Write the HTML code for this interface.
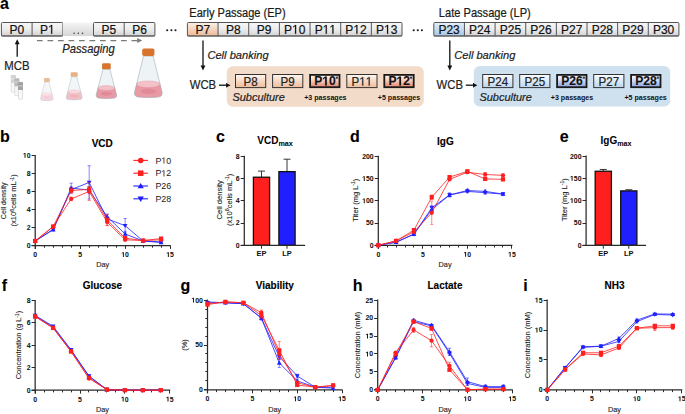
<!DOCTYPE html>
<html><head><meta charset="utf-8"><style>
html,body{margin:0;padding:0;background:#fff;}
body{width:685px;height:414px;overflow:hidden;}
svg{display:block;font-family:"Liberation Sans", sans-serif;}
</style></head><body>
<svg width="685" height="414" viewBox="0 0 685 414">
<rect width="685" height="414" fill="#fff"/>
<defs>
<linearGradient id="gGray" x1="0" y1="0" x2="0" y2="1"><stop offset="0" stop-color="#f7f7f7"/><stop offset="0.5" stop-color="#ececec"/><stop offset="1" stop-color="#d2d2d2"/></linearGradient>
<linearGradient id="gGrayMid" x1="0" y1="0" x2="0" y2="1"><stop offset="0" stop-color="#f5f5f5"/><stop offset="1" stop-color="#d6d6d6"/></linearGradient>
<linearGradient id="gOr" x1="0" y1="0" x2="0" y2="1"><stop offset="0" stop-color="#fbf1ea"/><stop offset="1" stop-color="#eeb994"/></linearGradient>
<linearGradient id="gBl" x1="0" y1="0" x2="0" y2="1"><stop offset="0" stop-color="#e6f0fa"/><stop offset="1" stop-color="#a6c6e8"/></linearGradient>
<linearGradient id="gOrL" x1="0" y1="0" x2="0" y2="1"><stop offset="0" stop-color="#fdf6f1"/><stop offset="1" stop-color="#f0bc98"/></linearGradient>
<linearGradient id="gOrS" x1="0" y1="0" x2="0" y2="1"><stop offset="0" stop-color="#fef6f2"/><stop offset="0.35" stop-color="#f8d9cd"/><stop offset="1" stop-color="#e6846a"/></linearGradient>
<linearGradient id="gBlL" x1="0" y1="0" x2="0" y2="1"><stop offset="0" stop-color="#fbfdff"/><stop offset="1" stop-color="#bcd5ef"/></linearGradient>
<linearGradient id="gBlS" x1="0" y1="0" x2="0" y2="1"><stop offset="0" stop-color="#f8f9fe"/><stop offset="0.35" stop-color="#dde4f7"/><stop offset="1" stop-color="#8aa1dd"/></linearGradient>
</defs>
<text transform="translate(0.00,9.00) scale(1,1.06)" font-size="16" font-weight="bold" font-style="normal" text-anchor="start" fill="#000" stroke="#000" stroke-width="0.12" >a</text>
<rect x="1.40" y="22.5" width="30.70" height="13.6" fill="url(#gGray)"/>
<text transform="translate(16.75,33.80) scale(1,1.06)" font-size="12" font-weight="normal" font-style="normal" text-anchor="middle" fill="#111" stroke="#111" stroke-width="0.2" >P0</text>
<rect x="32.10" y="22.5" width="30.70" height="13.6" fill="url(#gGray)"/>
<text transform="translate(47.45,33.80) scale(1,1.06)" font-size="12" font-weight="normal" font-style="normal" text-anchor="middle" fill="#111" stroke="#111" stroke-width="0.2" >P&#x2007;</text>
<path transform="translate(47.45,33.80) scale(1,1.06) scale(0.00586,-0.00586) translate(113.5,0)" d="M515 0L515 1237L197 1010L197 1180L530 1409L696 1409L696 0Z" fill="#111" stroke="#111" stroke-width="34.1"/>
<rect x="1.40" y="22.5" width="61.40" height="13.6" rx="1" fill="none" stroke="#555" stroke-width="1"/>
<line x1="32.10" y1="22.5" x2="32.10" y2="36.1" stroke="#444" stroke-width="0.9"/>
<line x1="1.40" y1="35.800000000000004" x2="62.80" y2="35.800000000000004" stroke="#666" stroke-width="1"/>
<rect x="62.80" y="22.5" width="30.70" height="13.6" fill="url(#gGrayMid)"/>
<circle cx="74.1" cy="33.2" r="0.75" fill="#333"/>
<circle cx="78.3" cy="33.2" r="0.75" fill="#333"/>
<circle cx="82.5" cy="33.2" r="0.75" fill="#333"/>
<rect x="93.50" y="22.5" width="30.70" height="13.6" fill="url(#gGray)"/>
<text transform="translate(108.85,33.80) scale(1,1.06)" font-size="12" font-weight="normal" font-style="normal" text-anchor="middle" fill="#111" stroke="#111" stroke-width="0.2" >P5</text>
<rect x="124.20" y="22.5" width="30.70" height="13.6" fill="url(#gGray)"/>
<text transform="translate(139.55,33.80) scale(1,1.06)" font-size="12" font-weight="normal" font-style="normal" text-anchor="middle" fill="#111" stroke="#111" stroke-width="0.2" >P6</text>
<rect x="93.50" y="22.5" width="61.40" height="13.6" rx="1" fill="none" stroke="#555" stroke-width="1"/>
<line x1="124.20" y1="22.5" x2="124.20" y2="36.1" stroke="#444" stroke-width="0.9"/>
<line x1="93.50" y1="35.800000000000004" x2="154.90" y2="35.800000000000004" stroke="#666" stroke-width="1"/>
<circle cx="167.2" cy="30.2" r="1.05" fill="#1a1a1a"/>
<circle cx="171.4" cy="30.2" r="1.05" fill="#1a1a1a"/>
<circle cx="175.5" cy="30.2" r="1.05" fill="#1a1a1a"/>
<text transform="translate(189.30,16.50) scale(1,1.09)" font-size="11.05" font-weight="normal" font-style="normal" text-anchor="start" fill="#1a1a1a" stroke="#1a1a1a" stroke-width="0.2" >Early Passage (EP)</text>
<rect x="187.40" y="22.5" width="30.66" height="13.6" fill="url(#gOr)"/>
<text transform="translate(202.73,33.80) scale(1,1.06)" font-size="12" font-weight="normal" font-style="normal" text-anchor="middle" fill="#111" stroke="#111" stroke-width="0.2" >P7</text>
<rect x="218.06" y="22.5" width="30.66" height="13.6" fill="url(#gGray)"/>
<text transform="translate(233.39,33.80) scale(1,1.06)" font-size="12" font-weight="normal" font-style="normal" text-anchor="middle" fill="#111" stroke="#111" stroke-width="0.2" >P8</text>
<rect x="248.72" y="22.5" width="30.66" height="13.6" fill="url(#gGray)"/>
<text transform="translate(264.05,33.80) scale(1,1.06)" font-size="12" font-weight="normal" font-style="normal" text-anchor="middle" fill="#111" stroke="#111" stroke-width="0.2" >P9</text>
<rect x="279.38" y="22.5" width="30.66" height="13.6" fill="url(#gGray)"/>
<text transform="translate(294.71,33.80) scale(1,1.06)" font-size="12" font-weight="normal" font-style="normal" text-anchor="middle" fill="#111" stroke="#111" stroke-width="0.2" >P&#x2007;0</text>
<path transform="translate(294.71,33.80) scale(1,1.06) scale(0.00586,-0.00586) translate(-456.0,0)" d="M515 0L515 1237L197 1010L197 1180L530 1409L696 1409L696 0Z" fill="#111" stroke="#111" stroke-width="34.1"/>
<rect x="310.04" y="22.5" width="30.66" height="13.6" fill="url(#gGray)"/>
<text transform="translate(325.37,33.80) scale(1,1.06)" font-size="12" font-weight="normal" font-style="normal" text-anchor="middle" fill="#111" stroke="#111" stroke-width="0.2" >P&#x2007;&#x2007;</text>
<path transform="translate(325.37,33.80) scale(1,1.06) scale(0.00586,-0.00586) translate(-456.0,0)" d="M515 0L515 1237L197 1010L197 1180L530 1409L696 1409L696 0Z" fill="#111" stroke="#111" stroke-width="34.1"/>
<path transform="translate(325.37,33.80) scale(1,1.06) scale(0.00586,-0.00586) translate(683.0,0)" d="M515 0L515 1237L197 1010L197 1180L530 1409L696 1409L696 0Z" fill="#111" stroke="#111" stroke-width="34.1"/>
<rect x="340.70" y="22.5" width="30.66" height="13.6" fill="url(#gGray)"/>
<text transform="translate(356.03,33.80) scale(1,1.06)" font-size="12" font-weight="normal" font-style="normal" text-anchor="middle" fill="#111" stroke="#111" stroke-width="0.2" >P&#x2007;2</text>
<path transform="translate(356.03,33.80) scale(1,1.06) scale(0.00586,-0.00586) translate(-456.0,0)" d="M515 0L515 1237L197 1010L197 1180L530 1409L696 1409L696 0Z" fill="#111" stroke="#111" stroke-width="34.1"/>
<rect x="371.36" y="22.5" width="30.66" height="13.6" fill="url(#gGray)"/>
<text transform="translate(386.69,33.80) scale(1,1.06)" font-size="12" font-weight="normal" font-style="normal" text-anchor="middle" fill="#111" stroke="#111" stroke-width="0.2" >P&#x2007;3</text>
<path transform="translate(386.69,33.80) scale(1,1.06) scale(0.00586,-0.00586) translate(-456.0,0)" d="M515 0L515 1237L197 1010L197 1180L530 1409L696 1409L696 0Z" fill="#111" stroke="#111" stroke-width="34.1"/>
<rect x="187.40" y="22.5" width="214.62" height="13.6" rx="1" fill="none" stroke="#555" stroke-width="1"/>
<line x1="218.06" y1="22.5" x2="218.06" y2="36.1" stroke="#444" stroke-width="0.9"/>
<line x1="248.72" y1="22.5" x2="248.72" y2="36.1" stroke="#444" stroke-width="0.9"/>
<line x1="279.38" y1="22.5" x2="279.38" y2="36.1" stroke="#444" stroke-width="0.9"/>
<line x1="310.04" y1="22.5" x2="310.04" y2="36.1" stroke="#444" stroke-width="0.9"/>
<line x1="340.70" y1="22.5" x2="340.70" y2="36.1" stroke="#444" stroke-width="0.9"/>
<line x1="371.36" y1="22.5" x2="371.36" y2="36.1" stroke="#444" stroke-width="0.9"/>
<line x1="187.40" y1="35.800000000000004" x2="402.02" y2="35.800000000000004" stroke="#666" stroke-width="1"/>
<circle cx="413.7" cy="30.2" r="1.05" fill="#1a1a1a"/>
<circle cx="417.8" cy="30.2" r="1.05" fill="#1a1a1a"/>
<circle cx="421.9" cy="30.2" r="1.05" fill="#1a1a1a"/>
<text transform="translate(438.80,16.70) scale(1,1.09)" font-size="11.1" font-weight="normal" font-style="normal" text-anchor="start" fill="#1a1a1a" stroke="#1a1a1a" stroke-width="0.2" >Late Passage (LP)</text>
<rect x="433.80" y="22.5" width="30.64" height="13.6" fill="url(#gBl)"/>
<text transform="translate(449.12,33.80) scale(1,1.06)" font-size="12" font-weight="normal" font-style="normal" text-anchor="middle" fill="#111" stroke="#111" stroke-width="0.2" >P23</text>
<rect x="464.44" y="22.5" width="30.64" height="13.6" fill="url(#gGray)"/>
<text transform="translate(479.76,33.80) scale(1,1.06)" font-size="12" font-weight="normal" font-style="normal" text-anchor="middle" fill="#111" stroke="#111" stroke-width="0.2" >P24</text>
<rect x="495.08" y="22.5" width="30.64" height="13.6" fill="url(#gGray)"/>
<text transform="translate(510.40,33.80) scale(1,1.06)" font-size="12" font-weight="normal" font-style="normal" text-anchor="middle" fill="#111" stroke="#111" stroke-width="0.2" >P25</text>
<rect x="525.72" y="22.5" width="30.64" height="13.6" fill="url(#gGray)"/>
<text transform="translate(541.04,33.80) scale(1,1.06)" font-size="12" font-weight="normal" font-style="normal" text-anchor="middle" fill="#111" stroke="#111" stroke-width="0.2" >P26</text>
<rect x="556.36" y="22.5" width="30.64" height="13.6" fill="url(#gGray)"/>
<text transform="translate(571.68,33.80) scale(1,1.06)" font-size="12" font-weight="normal" font-style="normal" text-anchor="middle" fill="#111" stroke="#111" stroke-width="0.2" >P27</text>
<rect x="587.00" y="22.5" width="30.64" height="13.6" fill="url(#gGray)"/>
<text transform="translate(602.32,33.80) scale(1,1.06)" font-size="12" font-weight="normal" font-style="normal" text-anchor="middle" fill="#111" stroke="#111" stroke-width="0.2" >P28</text>
<rect x="617.64" y="22.5" width="30.64" height="13.6" fill="url(#gGray)"/>
<text transform="translate(632.96,33.80) scale(1,1.06)" font-size="12" font-weight="normal" font-style="normal" text-anchor="middle" fill="#111" stroke="#111" stroke-width="0.2" >P29</text>
<rect x="648.28" y="22.5" width="30.64" height="13.6" fill="url(#gGray)"/>
<text transform="translate(663.60,33.80) scale(1,1.06)" font-size="12" font-weight="normal" font-style="normal" text-anchor="middle" fill="#111" stroke="#111" stroke-width="0.2" >P30</text>
<rect x="433.80" y="22.5" width="245.12" height="13.6" rx="1" fill="none" stroke="#555" stroke-width="1"/>
<line x1="464.44" y1="22.5" x2="464.44" y2="36.1" stroke="#444" stroke-width="0.9"/>
<line x1="495.08" y1="22.5" x2="495.08" y2="36.1" stroke="#444" stroke-width="0.9"/>
<line x1="525.72" y1="22.5" x2="525.72" y2="36.1" stroke="#444" stroke-width="0.9"/>
<line x1="556.36" y1="22.5" x2="556.36" y2="36.1" stroke="#444" stroke-width="0.9"/>
<line x1="587.00" y1="22.5" x2="587.00" y2="36.1" stroke="#444" stroke-width="0.9"/>
<line x1="617.64" y1="22.5" x2="617.64" y2="36.1" stroke="#444" stroke-width="0.9"/>
<line x1="648.28" y1="22.5" x2="648.28" y2="36.1" stroke="#444" stroke-width="0.9"/>
<line x1="433.80" y1="35.800000000000004" x2="678.92" y2="35.800000000000004" stroke="#666" stroke-width="1"/>
<line x1="17.2" y1="56.7" x2="17.2" y2="43" stroke="#111" stroke-width="1.3"/>
<path d="M17.2 39.3 L19.6 44.2 L14.8 44.2 Z" fill="#111"/>
<text transform="translate(4.30,70.30) scale(1,1.06)" font-size="11.4" font-weight="normal" font-style="normal" text-anchor="start" fill="#222" stroke="#222" stroke-width="0.2" >MCB</text>
<line x1="37" y1="40.6" x2="138" y2="40.6" stroke="#7a7a7a" stroke-width="1.25" stroke-dasharray="5.7 4.8"/>
<path d="M142.2 40.6 L137.2 38.1 L137.2 43.1 Z" fill="#7a7a7a"/>
<text transform="translate(62.20,52.50) scale(1,1.06)" font-size="11.24" font-weight="normal" font-style="italic" text-anchor="start" fill="#222" stroke="#222" stroke-width="0.2" >Passaging</text>
<rect x="11.20" y="81.90" width="4.3" height="10.4" rx="1" fill="#f7f7f7" stroke="#c9c9c9" stroke-width="0.55"/>
<rect x="10.80" y="74.90" width="5.1" height="8" rx="0.6" fill="#d2d2d2"/>
<rect x="10.80" y="78.10" width="5.1" height="1.6" fill="#e4e4e4"/>
<rect x="14.70" y="85.20" width="4.3" height="10.4" rx="1" fill="#f7f7f7" stroke="#c9c9c9" stroke-width="0.55"/>
<rect x="14.30" y="78.20" width="5.1" height="8" rx="0.6" fill="#b9b9b9"/>
<rect x="14.30" y="81.40" width="5.1" height="1.6" fill="#d0d0d0"/>
<rect x="18.30" y="88.90" width="4.3" height="10.4" rx="1" fill="#f7f7f7" stroke="#c9c9c9" stroke-width="0.55"/>
<rect x="17.90" y="81.90" width="5.1" height="8" rx="0.6" fill="#a3a3a3"/>
<rect x="17.90" y="85.10" width="5.1" height="1.6" fill="#bdbdbd"/>
<path d="M44.60 82.00 L49.20 82.00 L49.20 82.74 L53.10 98.08 C53.55 99.66 52.57 100.40 50.57 100.40 Q46.90 101.00 43.23 100.40 C41.23 100.40 40.25 99.66 40.70 98.08 L44.60 82.74 Z" fill="#f3f7f9"/>
<path d="M41.69 94.20 L52.11 94.20 L53.10 98.08 C53.55 99.66 52.57 100.40 50.57 100.40 Q46.90 101.00 43.23 100.40 C41.23 100.40 40.25 99.66 40.70 98.08 Z" fill="#f7d5da"/>
<ellipse cx="46.90" cy="94.20" rx="5.21" ry="1.49" fill="#fae3e6" stroke="#f5ccd3" stroke-width="0.35"/>
<ellipse cx="46.90" cy="97.61" rx="3.47" ry="1.24" fill="#f5ccd3"/>
<path d="M44.60 82.00 L49.20 82.00 L49.20 82.74 L53.10 98.08 C53.55 99.66 52.57 100.40 50.57 100.40 Q46.90 101.00 43.23 100.40 C41.23 100.40 40.25 99.66 40.70 98.08 L44.60 82.74 Z" fill="none" stroke="#c4d0d6" stroke-width="0.55"/>
<rect x="44.00" y="78.00" width="5.80" height="4.00" rx="0.87" fill="#ebbb94"/>
<path d="M71.40 76.80 L77.00 76.80 L77.00 77.74 L82.00 96.68 C82.45 98.67 81.34 99.60 78.82 99.60 Q74.20 100.20 69.58 99.60 C67.06 99.60 65.95 98.67 66.40 96.68 L71.40 77.74 Z" fill="#f1f6f8"/>
<path d="M67.71 91.70 L80.69 91.70 L82.00 96.68 C82.45 98.67 81.34 99.60 78.82 99.60 Q74.20 100.20 69.58 99.60 C67.06 99.60 65.95 98.67 66.40 96.68 Z" fill="#f2bfc6"/>
<ellipse cx="74.20" cy="91.70" rx="6.49" ry="1.87" fill="#f8d8dc" stroke="#efb3bc" stroke-width="0.35"/>
<ellipse cx="74.20" cy="96.05" rx="4.37" ry="1.56" fill="#efb3bc"/>
<path d="M71.40 76.80 L77.00 76.80 L77.00 77.74 L82.00 96.68 C82.45 98.67 81.34 99.60 78.82 99.60 Q74.20 100.20 69.58 99.60 C67.06 99.60 65.95 98.67 66.40 96.68 L71.40 77.74 Z" fill="none" stroke="#b4c4cc" stroke-width="0.55"/>
<rect x="70.70" y="72.20" width="7.00" height="4.60" rx="1.05" fill="#e8b085"/>
<path d="M102.60 69.30 L110.20 69.30 L110.20 70.52 L116.55 94.50 C117.00 97.09 115.69 98.30 112.41 98.30 Q106.40 98.90 100.39 98.30 C97.11 98.30 95.80 97.09 96.25 94.50 L102.60 70.52 Z" fill="#eef4f6"/>
<path d="M97.97 88.00 L114.83 88.00 L116.55 94.50 C117.00 97.09 115.69 98.30 112.41 98.30 Q106.40 98.90 100.39 98.30 C97.11 98.30 95.80 97.09 96.25 94.50 Z" fill="#e89ba5"/>
<ellipse cx="106.40" cy="88.00" rx="8.43" ry="2.44" fill="#f2c2c8" stroke="#e2899a" stroke-width="0.35"/>
<ellipse cx="106.40" cy="93.66" rx="5.68" ry="2.03" fill="#e2899a"/>
<path d="M102.60 69.30 L110.20 69.30 L110.20 70.52 L116.55 94.50 C117.00 97.09 115.69 98.30 112.41 98.30 Q106.40 98.90 100.39 98.30 C97.11 98.30 95.80 97.09 96.25 94.50 L102.60 70.52 Z" fill="none" stroke="#98aab4" stroke-width="0.55"/>
<rect x="102.05" y="63.30" width="8.70" height="6.00" rx="1.30" fill="#d8742e"/>
<path d="M143.15 56.00 L153.45 56.00 L153.45 57.65 L162.05 92.06 C162.50 95.56 160.88 97.20 156.44 97.20 Q148.30 97.80 140.16 97.20 C135.72 97.20 134.10 95.56 134.55 92.06 L143.15 57.65 Z" fill="#eef4f6"/>
<path d="M136.51 84.20 L160.09 84.20 L162.05 92.06 C162.50 95.56 160.88 97.20 156.44 97.20 Q148.30 97.80 140.16 97.20 C135.72 97.20 134.10 95.56 134.55 92.06 Z" fill="#e89ba5"/>
<ellipse cx="148.30" cy="84.20" rx="11.79" ry="3.30" fill="#f2c2c8" stroke="#e2899a" stroke-width="0.35"/>
<ellipse cx="148.30" cy="91.35" rx="7.70" ry="2.75" fill="#e2899a"/>
<path d="M143.15 56.00 L153.45 56.00 L153.45 57.65 L162.05 92.06 C162.50 95.56 160.88 97.20 156.44 97.20 Q148.30 97.80 140.16 97.20 C135.72 97.20 134.10 95.56 134.55 92.06 L143.15 57.65 Z" fill="none" stroke="#94a6b0" stroke-width="0.55"/>
<rect x="142.20" y="48.40" width="12.20" height="7.60" rx="1.83" fill="#d7732d"/>
<line x1="203" y1="40.4" x2="203" y2="66.5" stroke="#111" stroke-width="1.3"/>
<path d="M203 70.4 L205.4 65.5 L200.6 65.5 Z" fill="#111"/>
<text transform="translate(207.40,58.90) scale(1,1.06)" font-size="11.13" font-weight="normal" font-style="italic" text-anchor="start" fill="#222" stroke="#222" stroke-width="0.2" >Cell banking</text>
<text transform="translate(189.80,89.40) scale(1,1.06)" font-size="11.3" font-weight="normal" font-style="normal" text-anchor="start" fill="#222" stroke="#222" stroke-width="0.2" >WCB</text>
<line x1="219" y1="85.2" x2="227" y2="85.2" stroke="#111" stroke-width="1.3"/>
<path d="M230.6 85.2 L226.2 83 L226.2 87.4 Z" fill="#111"/>
<line x1="449.8" y1="40.4" x2="449.8" y2="66.5" stroke="#111" stroke-width="1.3"/>
<path d="M449.8 70.4 L452.20000000000005 65.5 L447.4 65.5 Z" fill="#111"/>
<text transform="translate(454.20,58.90) scale(1,1.06)" font-size="11.13" font-weight="normal" font-style="italic" text-anchor="start" fill="#222" stroke="#222" stroke-width="0.2" >Cell banking</text>
<text transform="translate(436.60,89.40) scale(1,1.06)" font-size="11.3" font-weight="normal" font-style="normal" text-anchor="start" fill="#222" stroke="#222" stroke-width="0.2" >WCB</text>
<line x1="465.8" y1="85.2" x2="473.8" y2="85.2" stroke="#111" stroke-width="1.3"/>
<path d="M477.4 85.2 L473.0 83 L473.0 87.4 Z" fill="#111"/>
<rect x="226.8" y="66.2" width="197" height="40.5" rx="6" fill="#f2dcc9"/>
<rect x="473.8" y="66.1" width="196.4" height="40.5" rx="6" fill="#cfe0ef"/>
<path d="M230.6 85.2 L226.2 83 L226.2 87.4 Z" fill="#111"/>
<path d="M477.4 85.2 L473 83 L473 87.4 Z" fill="#111"/>
<rect x="235.50" y="74.5" width="30.20" height="13.1" fill="url(#gOrL)" stroke="#333" stroke-width="1"/>
<text transform="translate(250.60,85.60) scale(1,1.06)" font-size="11.6" font-weight="normal" font-style="normal" text-anchor="middle" fill="#222" stroke="#222" stroke-width="0.2" >P8</text>
<rect x="272.60" y="74.5" width="30.20" height="13.1" fill="url(#gOrL)" stroke="#333" stroke-width="1"/>
<text transform="translate(287.70,85.60) scale(1,1.06)" font-size="11.6" font-weight="normal" font-style="normal" text-anchor="middle" fill="#222" stroke="#222" stroke-width="0.2" >P9</text>
<rect x="310.10" y="74.9" width="29.40" height="12.3" fill="url(#gOrS)" stroke="#1a1a1a" stroke-width="1.8"/>
<text transform="translate(325.00,85.40) scale(1,1.06)" font-size="12.1" font-weight="bold" font-style="normal" text-anchor="middle" fill="#111" stroke="#111" stroke-width="0.12" >P&#x2007;0</text>
<path transform="translate(325.00,85.40) scale(1,1.06) scale(0.00591,-0.00591) translate(-456.0,0)" d="M478 0L478 1170L140 959L140 1180L493 1409L759 1409L759 0Z" fill="#111" stroke="#111" stroke-width="20.3"/>
<line x1="336.90" y1="76.20" x2="336.90" y2="79.20" stroke="#222" stroke-width="0.7"/>
<line x1="335.60" y1="76.95" x2="338.20" y2="78.45" stroke="#222" stroke-width="0.7"/>
<line x1="338.20" y1="76.95" x2="335.60" y2="78.45" stroke="#222" stroke-width="0.7"/>
<rect x="346.80" y="74.5" width="30.20" height="13.1" fill="url(#gOrL)" stroke="#333" stroke-width="1"/>
<text transform="translate(361.90,85.60) scale(1,1.06)" font-size="11.6" font-weight="normal" font-style="normal" text-anchor="middle" fill="#222" stroke="#222" stroke-width="0.2" >P&#x2007;&#x2007;</text>
<path transform="translate(361.90,85.60) scale(1,1.06) scale(0.00566,-0.00566) translate(-456.0,0)" d="M515 0L515 1237L197 1010L197 1180L530 1409L696 1409L696 0Z" fill="#222" stroke="#222" stroke-width="35.3"/>
<path transform="translate(361.90,85.60) scale(1,1.06) scale(0.00566,-0.00566) translate(683.0,0)" d="M515 0L515 1237L197 1010L197 1180L530 1409L696 1409L696 0Z" fill="#222" stroke="#222" stroke-width="35.3"/>
<rect x="384.30" y="74.9" width="29.40" height="12.3" fill="url(#gOrS)" stroke="#1a1a1a" stroke-width="1.8"/>
<text transform="translate(399.20,85.40) scale(1,1.06)" font-size="12.1" font-weight="bold" font-style="normal" text-anchor="middle" fill="#111" stroke="#111" stroke-width="0.12" >P&#x2007;2</text>
<path transform="translate(399.20,85.40) scale(1,1.06) scale(0.00591,-0.00591) translate(-456.0,0)" d="M478 0L478 1170L140 959L140 1180L493 1409L759 1409L759 0Z" fill="#111" stroke="#111" stroke-width="20.3"/>
<line x1="411.10" y1="76.20" x2="411.10" y2="79.20" stroke="#222" stroke-width="0.7"/>
<line x1="409.80" y1="76.95" x2="412.40" y2="78.45" stroke="#222" stroke-width="0.7"/>
<line x1="412.40" y1="76.95" x2="409.80" y2="78.45" stroke="#222" stroke-width="0.7"/>
<rect x="482.70" y="74.5" width="30.20" height="13.1" fill="url(#gBlL)" stroke="#333" stroke-width="1"/>
<text transform="translate(497.80,85.60) scale(1,1.06)" font-size="11.6" font-weight="normal" font-style="normal" text-anchor="middle" fill="#222" stroke="#222" stroke-width="0.2" >P24</text>
<rect x="519.70" y="74.5" width="30.20" height="13.1" fill="url(#gBlL)" stroke="#333" stroke-width="1"/>
<text transform="translate(534.80,85.60) scale(1,1.06)" font-size="11.6" font-weight="normal" font-style="normal" text-anchor="middle" fill="#222" stroke="#222" stroke-width="0.2" >P25</text>
<rect x="557.10" y="74.9" width="29.40" height="12.3" fill="url(#gBlS)" stroke="#1a1a1a" stroke-width="1.8"/>
<text transform="translate(572.00,85.40) scale(1,1.06)" font-size="12.1" font-weight="bold" font-style="normal" text-anchor="middle" fill="#111" stroke="#111" stroke-width="0.12" >P26</text>
<line x1="583.90" y1="76.20" x2="583.90" y2="79.20" stroke="#222" stroke-width="0.7"/>
<line x1="582.60" y1="76.95" x2="585.20" y2="78.45" stroke="#222" stroke-width="0.7"/>
<line x1="585.20" y1="76.95" x2="582.60" y2="78.45" stroke="#222" stroke-width="0.7"/>
<rect x="593.70" y="74.5" width="30.20" height="13.1" fill="url(#gBlL)" stroke="#333" stroke-width="1"/>
<text transform="translate(608.80,85.60) scale(1,1.06)" font-size="11.6" font-weight="normal" font-style="normal" text-anchor="middle" fill="#222" stroke="#222" stroke-width="0.2" >P27</text>
<rect x="631.10" y="74.9" width="29.40" height="12.3" fill="url(#gBlS)" stroke="#1a1a1a" stroke-width="1.8"/>
<text transform="translate(646.00,85.40) scale(1,1.06)" font-size="12.1" font-weight="bold" font-style="normal" text-anchor="middle" fill="#111" stroke="#111" stroke-width="0.12" >P28</text>
<line x1="657.90" y1="76.20" x2="657.90" y2="79.20" stroke="#222" stroke-width="0.7"/>
<line x1="656.60" y1="76.95" x2="659.20" y2="78.45" stroke="#222" stroke-width="0.7"/>
<line x1="659.20" y1="76.95" x2="656.60" y2="78.45" stroke="#222" stroke-width="0.7"/>
<text transform="translate(232.40,101.20) scale(1,1.06)" font-size="10.98" font-weight="normal" font-style="italic" text-anchor="start" fill="#222" stroke="#222" stroke-width="0.2" >Subculture</text>
<text transform="translate(479.40,101.20) scale(1,1.06)" font-size="10.98" font-weight="normal" font-style="italic" text-anchor="start" fill="#222" stroke="#222" stroke-width="0.2" >Subculture</text>
<text transform="translate(325.40,99.60) scale(1,1.06)" font-size="7.1" font-weight="bold" font-style="normal" text-anchor="middle" fill="#111" stroke="#111" stroke-width="0" >+3 passages</text>
<text transform="translate(399.00,99.60) scale(1,1.06)" font-size="7.1" font-weight="bold" font-style="normal" text-anchor="middle" fill="#111" stroke="#111" stroke-width="0" >+5 passages</text>
<text transform="translate(572.00,99.60) scale(1,1.06)" font-size="7.1" font-weight="bold" font-style="normal" text-anchor="middle" fill="#111" stroke="#111" stroke-width="0" >+3 passages</text>
<text transform="translate(645.60,99.60) scale(1,1.06)" font-size="7.1" font-weight="bold" font-style="normal" text-anchor="middle" fill="#111" stroke="#111" stroke-width="0" >+5 passages</text>
<text x="0.00" y="142.10" font-size="16" font-weight="bold" font-style="normal" text-anchor="start" fill="#000" stroke="#000" stroke-width="0.12" >b</text>
<text x="102.20" y="147.30" font-size="10" font-weight="bold" font-style="normal" text-anchor="middle" fill="#000" stroke="#000" stroke-width="0.12" >VCD</text>
<line x1="35.20" y1="248.90" x2="35.20" y2="154.90" stroke="#2a2a2a" stroke-width="1.25"/>
<line x1="31.60" y1="245.50" x2="170.60" y2="245.50" stroke="#2a2a2a" stroke-width="1.25"/>
<line x1="31.60" y1="245.50" x2="35.20" y2="245.50" stroke="#2a2a2a" stroke-width="1.05"/>
<text x="30.60" y="247.90" font-size="6.9" font-weight="bold" font-style="normal" text-anchor="end" fill="#111" stroke="#111" stroke-width="0.04" >0</text>
<line x1="31.60" y1="227.50" x2="35.20" y2="227.50" stroke="#2a2a2a" stroke-width="1.05"/>
<text x="30.60" y="229.88" font-size="6.9" font-weight="bold" font-style="normal" text-anchor="end" fill="#111" stroke="#111" stroke-width="0.04" >2</text>
<line x1="31.60" y1="209.50" x2="35.20" y2="209.50" stroke="#2a2a2a" stroke-width="1.05"/>
<text x="30.60" y="211.86" font-size="6.9" font-weight="bold" font-style="normal" text-anchor="end" fill="#111" stroke="#111" stroke-width="0.04" >4</text>
<line x1="31.60" y1="191.50" x2="35.20" y2="191.50" stroke="#2a2a2a" stroke-width="1.05"/>
<text x="30.60" y="193.84" font-size="6.9" font-weight="bold" font-style="normal" text-anchor="end" fill="#111" stroke="#111" stroke-width="0.04" >6</text>
<line x1="31.60" y1="173.50" x2="35.20" y2="173.50" stroke="#2a2a2a" stroke-width="1.05"/>
<text x="30.60" y="175.82" font-size="6.9" font-weight="bold" font-style="normal" text-anchor="end" fill="#111" stroke="#111" stroke-width="0.04" >8</text>
<line x1="31.60" y1="155.50" x2="35.20" y2="155.50" stroke="#2a2a2a" stroke-width="1.05"/>
<text x="30.60" y="157.80" font-size="6.9" font-weight="bold" font-style="normal" text-anchor="end" fill="#111" stroke="#111" stroke-width="0.04" >&#x2007;0</text>
<path transform="translate(30.60,157.80) scale(1,1.0) scale(0.00337,-0.00337) translate(-2278.0,0)" d="M478 0L478 1170L140 959L140 1180L493 1409L759 1409L759 0Z" fill="#111" stroke="#111" stroke-width="11.9"/>
<line x1="35.50" y1="245.5" x2="35.50" y2="248.9" stroke="#2a2a2a" stroke-width="1.05"/>
<text x="35.20" y="256.90" font-size="6.9" font-weight="bold" font-style="normal" text-anchor="middle" fill="#111" stroke="#111" stroke-width="0.04" >0</text>
<line x1="44.50" y1="245.5" x2="44.50" y2="247.7" stroke="#2a2a2a" stroke-width="1"/>
<line x1="53.50" y1="245.5" x2="53.50" y2="247.7" stroke="#2a2a2a" stroke-width="1"/>
<line x1="62.50" y1="245.5" x2="62.50" y2="247.7" stroke="#2a2a2a" stroke-width="1"/>
<line x1="71.50" y1="245.5" x2="71.50" y2="247.7" stroke="#2a2a2a" stroke-width="1"/>
<line x1="80.50" y1="245.5" x2="80.50" y2="248.9" stroke="#2a2a2a" stroke-width="1.05"/>
<text x="80.17" y="256.90" font-size="6.9" font-weight="bold" font-style="normal" text-anchor="middle" fill="#111" stroke="#111" stroke-width="0.04" >5</text>
<line x1="89.50" y1="245.5" x2="89.50" y2="247.7" stroke="#2a2a2a" stroke-width="1"/>
<line x1="98.50" y1="245.5" x2="98.50" y2="247.7" stroke="#2a2a2a" stroke-width="1"/>
<line x1="107.50" y1="245.5" x2="107.50" y2="247.7" stroke="#2a2a2a" stroke-width="1"/>
<line x1="116.50" y1="245.5" x2="116.50" y2="247.7" stroke="#2a2a2a" stroke-width="1"/>
<line x1="125.50" y1="245.5" x2="125.50" y2="248.9" stroke="#2a2a2a" stroke-width="1.05"/>
<text x="125.13" y="256.90" font-size="6.9" font-weight="bold" font-style="normal" text-anchor="middle" fill="#111" stroke="#111" stroke-width="0.04" >&#x2007;0</text>
<path transform="translate(125.13,256.90) scale(1,1.0) scale(0.00337,-0.00337) translate(-1139.0,0)" d="M478 0L478 1170L140 959L140 1180L493 1409L759 1409L759 0Z" fill="#111" stroke="#111" stroke-width="11.9"/>
<line x1="134.50" y1="245.5" x2="134.50" y2="247.7" stroke="#2a2a2a" stroke-width="1"/>
<line x1="143.50" y1="245.5" x2="143.50" y2="247.7" stroke="#2a2a2a" stroke-width="1"/>
<line x1="152.50" y1="245.5" x2="152.50" y2="247.7" stroke="#2a2a2a" stroke-width="1"/>
<line x1="161.50" y1="245.5" x2="161.50" y2="247.7" stroke="#2a2a2a" stroke-width="1"/>
<line x1="170.50" y1="245.5" x2="170.50" y2="248.9" stroke="#2a2a2a" stroke-width="1.05"/>
<text x="170.10" y="256.90" font-size="6.9" font-weight="bold" font-style="normal" text-anchor="middle" fill="#111" stroke="#111" stroke-width="0.04" >&#x2007;5</text>
<path transform="translate(170.10,256.90) scale(1,1.0) scale(0.00337,-0.00337) translate(-1139.0,0)" d="M478 0L478 1170L140 959L140 1180L493 1409L759 1409L759 0Z" fill="#111" stroke="#111" stroke-width="11.9"/>
<text x="102.65" y="267.30" font-size="7.3" font-weight="normal" font-style="normal" text-anchor="middle" fill="#222" stroke="#222" stroke-width="0.12" >Day</text>
<line x1="53.19" y1="228.83" x2="53.19" y2="230.63" stroke="#1f1fff" stroke-width="0.7" opacity="0.75"/>
<line x1="51.59" y1="228.83" x2="54.79" y2="228.83" stroke="#1f1fff" stroke-width="0.7" opacity="0.75"/>
<line x1="51.59" y1="230.63" x2="54.79" y2="230.63" stroke="#1f1fff" stroke-width="0.7" opacity="0.75"/>
<line x1="71.17" y1="183.15" x2="71.17" y2="193.06" stroke="#1f1fff" stroke-width="0.7" opacity="0.75"/>
<line x1="69.57" y1="183.15" x2="72.77" y2="183.15" stroke="#1f1fff" stroke-width="0.7" opacity="0.75"/>
<line x1="69.57" y1="193.06" x2="72.77" y2="193.06" stroke="#1f1fff" stroke-width="0.7" opacity="0.75"/>
<line x1="89.16" y1="186.48" x2="89.16" y2="193.69" stroke="#1f1fff" stroke-width="0.7" opacity="0.75"/>
<line x1="87.56" y1="186.48" x2="90.76" y2="186.48" stroke="#1f1fff" stroke-width="0.7" opacity="0.75"/>
<line x1="87.56" y1="193.69" x2="90.76" y2="193.69" stroke="#1f1fff" stroke-width="0.7" opacity="0.75"/>
<line x1="107.15" y1="213.97" x2="107.15" y2="219.37" stroke="#1f1fff" stroke-width="0.7" opacity="0.75"/>
<line x1="105.55" y1="213.97" x2="108.75" y2="213.97" stroke="#1f1fff" stroke-width="0.7" opacity="0.75"/>
<line x1="105.55" y1="219.37" x2="108.75" y2="219.37" stroke="#1f1fff" stroke-width="0.7" opacity="0.75"/>
<line x1="125.13" y1="231.26" x2="125.13" y2="236.67" stroke="#1f1fff" stroke-width="0.7" opacity="0.75"/>
<line x1="123.53" y1="231.26" x2="126.73" y2="231.26" stroke="#1f1fff" stroke-width="0.7" opacity="0.75"/>
<line x1="123.53" y1="236.67" x2="126.73" y2="236.67" stroke="#1f1fff" stroke-width="0.7" opacity="0.75"/>
<line x1="143.12" y1="240.54" x2="143.12" y2="241.45" stroke="#1f1fff" stroke-width="0.7" opacity="0.75"/>
<line x1="141.52" y1="240.54" x2="144.72" y2="240.54" stroke="#1f1fff" stroke-width="0.7" opacity="0.75"/>
<line x1="141.52" y1="241.45" x2="144.72" y2="241.45" stroke="#1f1fff" stroke-width="0.7" opacity="0.75"/>
<line x1="161.11" y1="242.08" x2="161.11" y2="242.98" stroke="#1f1fff" stroke-width="0.7" opacity="0.75"/>
<line x1="159.51" y1="242.08" x2="162.71" y2="242.08" stroke="#1f1fff" stroke-width="0.7" opacity="0.75"/>
<line x1="159.51" y1="242.98" x2="162.71" y2="242.98" stroke="#1f1fff" stroke-width="0.7" opacity="0.75"/>
<polyline points="35.20,241.00 53.19,229.73 71.17,188.11 89.16,190.09 107.15,216.67 125.13,233.97 143.12,241.00 161.11,242.53" fill="none" stroke="#1f1fff" stroke-width="0.8"/>
<path d="M35.20 238.60 L37.59 242.79 L32.81 242.79 Z" fill="#1f1fff"/>
<path d="M53.19 227.34 L55.58 231.53 L50.79 231.53 Z" fill="#1f1fff"/>
<path d="M71.17 185.71 L73.57 189.90 L68.78 189.90 Z" fill="#1f1fff"/>
<path d="M89.16 187.70 L91.55 191.88 L86.77 191.88 Z" fill="#1f1fff"/>
<path d="M107.15 214.28 L109.54 218.46 L104.75 218.46 Z" fill="#1f1fff"/>
<path d="M125.13 231.58 L127.53 235.76 L122.74 235.76 Z" fill="#1f1fff"/>
<path d="M143.12 238.60 L145.51 242.79 L140.73 242.79 Z" fill="#1f1fff"/>
<path d="M161.11 240.13 L163.50 244.32 L158.71 244.32 Z" fill="#1f1fff"/>
<line x1="53.19" y1="228.38" x2="53.19" y2="230.18" stroke="#1f1fff" stroke-width="0.7" opacity="0.75"/>
<line x1="51.59" y1="228.38" x2="54.79" y2="228.38" stroke="#1f1fff" stroke-width="0.7" opacity="0.75"/>
<line x1="51.59" y1="230.18" x2="54.79" y2="230.18" stroke="#1f1fff" stroke-width="0.7" opacity="0.75"/>
<line x1="71.17" y1="186.94" x2="71.17" y2="192.34" stroke="#1f1fff" stroke-width="0.7" opacity="0.75"/>
<line x1="69.57" y1="186.94" x2="72.77" y2="186.94" stroke="#1f1fff" stroke-width="0.7" opacity="0.75"/>
<line x1="69.57" y1="192.34" x2="72.77" y2="192.34" stroke="#1f1fff" stroke-width="0.7" opacity="0.75"/>
<line x1="89.16" y1="165.76" x2="89.16" y2="199.10" stroke="#1f1fff" stroke-width="0.7" opacity="0.75"/>
<line x1="87.56" y1="165.76" x2="90.76" y2="165.76" stroke="#1f1fff" stroke-width="0.7" opacity="0.75"/>
<line x1="87.56" y1="199.10" x2="90.76" y2="199.10" stroke="#1f1fff" stroke-width="0.7" opacity="0.75"/>
<line x1="107.15" y1="216.22" x2="107.15" y2="221.62" stroke="#1f1fff" stroke-width="0.7" opacity="0.75"/>
<line x1="105.55" y1="216.22" x2="108.75" y2="216.22" stroke="#1f1fff" stroke-width="0.7" opacity="0.75"/>
<line x1="105.55" y1="221.62" x2="108.75" y2="221.62" stroke="#1f1fff" stroke-width="0.7" opacity="0.75"/>
<line x1="125.13" y1="218.47" x2="125.13" y2="232.89" stroke="#1f1fff" stroke-width="0.7" opacity="0.75"/>
<line x1="123.53" y1="218.47" x2="126.73" y2="218.47" stroke="#1f1fff" stroke-width="0.7" opacity="0.75"/>
<line x1="123.53" y1="232.89" x2="126.73" y2="232.89" stroke="#1f1fff" stroke-width="0.7" opacity="0.75"/>
<line x1="143.12" y1="240.54" x2="143.12" y2="241.45" stroke="#1f1fff" stroke-width="0.7" opacity="0.75"/>
<line x1="141.52" y1="240.54" x2="144.72" y2="240.54" stroke="#1f1fff" stroke-width="0.7" opacity="0.75"/>
<line x1="141.52" y1="241.45" x2="144.72" y2="241.45" stroke="#1f1fff" stroke-width="0.7" opacity="0.75"/>
<line x1="161.11" y1="241.45" x2="161.11" y2="242.35" stroke="#1f1fff" stroke-width="0.7" opacity="0.75"/>
<line x1="159.51" y1="241.45" x2="162.71" y2="241.45" stroke="#1f1fff" stroke-width="0.7" opacity="0.75"/>
<line x1="159.51" y1="242.35" x2="162.71" y2="242.35" stroke="#1f1fff" stroke-width="0.7" opacity="0.75"/>
<polyline points="35.20,241.00 53.19,229.28 71.17,189.64 89.16,182.43 107.15,218.92 125.13,225.68 143.12,241.00 161.11,241.90" fill="none" stroke="#1f1fff" stroke-width="0.8"/>
<path d="M35.20 243.39 L37.59 239.20 L32.81 239.20 Z" fill="#1f1fff"/>
<path d="M53.19 231.67 L55.58 227.49 L50.79 227.49 Z" fill="#1f1fff"/>
<path d="M71.17 192.03 L73.57 187.84 L68.78 187.84 Z" fill="#1f1fff"/>
<path d="M89.16 184.82 L91.55 180.64 L86.77 180.64 Z" fill="#1f1fff"/>
<path d="M107.15 221.31 L109.54 217.13 L104.75 217.13 Z" fill="#1f1fff"/>
<path d="M125.13 228.07 L127.53 223.88 L122.74 223.88 Z" fill="#1f1fff"/>
<path d="M143.12 243.39 L145.51 239.20 L140.73 239.20 Z" fill="#1f1fff"/>
<path d="M161.11 244.29 L163.50 240.10 L158.71 240.10 Z" fill="#1f1fff"/>
<line x1="53.19" y1="225.23" x2="53.19" y2="227.93" stroke="#ff1f1f" stroke-width="0.7" opacity="0.75"/>
<line x1="51.59" y1="225.23" x2="54.79" y2="225.23" stroke="#ff1f1f" stroke-width="0.7" opacity="0.75"/>
<line x1="51.59" y1="227.93" x2="54.79" y2="227.93" stroke="#ff1f1f" stroke-width="0.7" opacity="0.75"/>
<line x1="71.17" y1="197.12" x2="71.17" y2="200.72" stroke="#ff1f1f" stroke-width="0.7" opacity="0.75"/>
<line x1="69.57" y1="197.12" x2="72.77" y2="197.12" stroke="#ff1f1f" stroke-width="0.7" opacity="0.75"/>
<line x1="69.57" y1="200.72" x2="72.77" y2="200.72" stroke="#ff1f1f" stroke-width="0.7" opacity="0.75"/>
<line x1="89.16" y1="182.43" x2="89.16" y2="200.45" stroke="#ff1f1f" stroke-width="0.7" opacity="0.75"/>
<line x1="87.56" y1="182.43" x2="90.76" y2="182.43" stroke="#ff1f1f" stroke-width="0.7" opacity="0.75"/>
<line x1="87.56" y1="200.45" x2="90.76" y2="200.45" stroke="#ff1f1f" stroke-width="0.7" opacity="0.75"/>
<line x1="107.15" y1="218.47" x2="107.15" y2="225.68" stroke="#ff1f1f" stroke-width="0.7" opacity="0.75"/>
<line x1="105.55" y1="218.47" x2="108.75" y2="218.47" stroke="#ff1f1f" stroke-width="0.7" opacity="0.75"/>
<line x1="105.55" y1="225.68" x2="108.75" y2="225.68" stroke="#ff1f1f" stroke-width="0.7" opacity="0.75"/>
<line x1="125.13" y1="238.92" x2="125.13" y2="240.72" stroke="#ff1f1f" stroke-width="0.7" opacity="0.75"/>
<line x1="123.53" y1="238.92" x2="126.73" y2="238.92" stroke="#ff1f1f" stroke-width="0.7" opacity="0.75"/>
<line x1="123.53" y1="240.72" x2="126.73" y2="240.72" stroke="#ff1f1f" stroke-width="0.7" opacity="0.75"/>
<line x1="143.12" y1="240.09" x2="143.12" y2="241.00" stroke="#ff1f1f" stroke-width="0.7" opacity="0.75"/>
<line x1="141.52" y1="240.09" x2="144.72" y2="240.09" stroke="#ff1f1f" stroke-width="0.7" opacity="0.75"/>
<line x1="141.52" y1="241.00" x2="144.72" y2="241.00" stroke="#ff1f1f" stroke-width="0.7" opacity="0.75"/>
<line x1="161.11" y1="238.92" x2="161.11" y2="240.72" stroke="#ff1f1f" stroke-width="0.7" opacity="0.75"/>
<line x1="159.51" y1="238.92" x2="162.71" y2="238.92" stroke="#ff1f1f" stroke-width="0.7" opacity="0.75"/>
<line x1="159.51" y1="240.72" x2="162.71" y2="240.72" stroke="#ff1f1f" stroke-width="0.7" opacity="0.75"/>
<polyline points="35.20,241.00 53.19,226.58 71.17,198.92 89.16,191.44 107.15,222.07 125.13,239.82 143.12,240.54 161.11,239.82" fill="none" stroke="#ff1f1f" stroke-width="0.8"/>
<circle cx="35.20" cy="241.00" r="2.12" fill="#ff1f1f"/>
<circle cx="53.19" cy="226.58" r="2.12" fill="#ff1f1f"/>
<circle cx="71.17" cy="198.92" r="2.12" fill="#ff1f1f"/>
<circle cx="89.16" cy="191.44" r="2.12" fill="#ff1f1f"/>
<circle cx="107.15" cy="222.07" r="2.12" fill="#ff1f1f"/>
<circle cx="125.13" cy="239.82" r="2.12" fill="#ff1f1f"/>
<circle cx="143.12" cy="240.54" r="2.12" fill="#ff1f1f"/>
<circle cx="161.11" cy="239.82" r="2.12" fill="#ff1f1f"/>
<line x1="53.19" y1="225.68" x2="53.19" y2="227.48" stroke="#ff1f1f" stroke-width="0.7" opacity="0.75"/>
<line x1="51.59" y1="225.68" x2="54.79" y2="225.68" stroke="#ff1f1f" stroke-width="0.7" opacity="0.75"/>
<line x1="51.59" y1="227.48" x2="54.79" y2="227.48" stroke="#ff1f1f" stroke-width="0.7" opacity="0.75"/>
<line x1="71.17" y1="187.84" x2="71.17" y2="193.24" stroke="#ff1f1f" stroke-width="0.7" opacity="0.75"/>
<line x1="69.57" y1="187.84" x2="72.77" y2="187.84" stroke="#ff1f1f" stroke-width="0.7" opacity="0.75"/>
<line x1="69.57" y1="193.24" x2="72.77" y2="193.24" stroke="#ff1f1f" stroke-width="0.7" opacity="0.75"/>
<line x1="89.16" y1="186.66" x2="89.16" y2="192.07" stroke="#ff1f1f" stroke-width="0.7" opacity="0.75"/>
<line x1="87.56" y1="186.66" x2="90.76" y2="186.66" stroke="#ff1f1f" stroke-width="0.7" opacity="0.75"/>
<line x1="87.56" y1="192.07" x2="90.76" y2="192.07" stroke="#ff1f1f" stroke-width="0.7" opacity="0.75"/>
<line x1="107.15" y1="214.51" x2="107.15" y2="225.32" stroke="#ff1f1f" stroke-width="0.7" opacity="0.75"/>
<line x1="105.55" y1="214.51" x2="108.75" y2="214.51" stroke="#ff1f1f" stroke-width="0.7" opacity="0.75"/>
<line x1="105.55" y1="225.32" x2="108.75" y2="225.32" stroke="#ff1f1f" stroke-width="0.7" opacity="0.75"/>
<line x1="125.13" y1="236.76" x2="125.13" y2="239.46" stroke="#ff1f1f" stroke-width="0.7" opacity="0.75"/>
<line x1="123.53" y1="236.76" x2="126.73" y2="236.76" stroke="#ff1f1f" stroke-width="0.7" opacity="0.75"/>
<line x1="123.53" y1="239.46" x2="126.73" y2="239.46" stroke="#ff1f1f" stroke-width="0.7" opacity="0.75"/>
<line x1="143.12" y1="240.09" x2="143.12" y2="241.00" stroke="#ff1f1f" stroke-width="0.7" opacity="0.75"/>
<line x1="141.52" y1="240.09" x2="144.72" y2="240.09" stroke="#ff1f1f" stroke-width="0.7" opacity="0.75"/>
<line x1="141.52" y1="241.00" x2="144.72" y2="241.00" stroke="#ff1f1f" stroke-width="0.7" opacity="0.75"/>
<line x1="161.11" y1="237.66" x2="161.11" y2="239.46" stroke="#ff1f1f" stroke-width="0.7" opacity="0.75"/>
<line x1="159.51" y1="237.66" x2="162.71" y2="237.66" stroke="#ff1f1f" stroke-width="0.7" opacity="0.75"/>
<line x1="159.51" y1="239.46" x2="162.71" y2="239.46" stroke="#ff1f1f" stroke-width="0.7" opacity="0.75"/>
<polyline points="35.20,241.00 53.19,226.58 71.17,190.54 89.16,189.37 107.15,219.91 125.13,238.11 143.12,240.54 161.11,238.56" fill="none" stroke="#ff1f1f" stroke-width="0.8"/>
<rect x="33.08" y="238.88" width="4.23" height="4.23" fill="#ff1f1f"/>
<rect x="51.07" y="224.46" width="4.23" height="4.23" fill="#ff1f1f"/>
<rect x="69.06" y="188.42" width="4.23" height="4.23" fill="#ff1f1f"/>
<rect x="87.04" y="187.25" width="4.23" height="4.23" fill="#ff1f1f"/>
<rect x="105.03" y="217.80" width="4.23" height="4.23" fill="#ff1f1f"/>
<rect x="123.02" y="236.00" width="4.23" height="4.23" fill="#ff1f1f"/>
<rect x="141.00" y="238.43" width="4.23" height="4.23" fill="#ff1f1f"/>
<rect x="158.99" y="236.45" width="4.23" height="4.23" fill="#ff1f1f"/>
<text x="0" y="0" transform="translate(6.20,200.80) rotate(-90)" font-size="7.1" text-anchor="middle" fill="#222" stroke="#222" stroke-width="0.1">Cell density</text>
<text x="0" y="0" transform="translate(16.20,200.40) rotate(-90)" font-size="7.5" text-anchor="middle" fill="#222" stroke="#222" stroke-width="0.1">(x10<tspan dy="-2.5" font-size="5.4">6</tspan><tspan dy="2.5">cells mL</tspan><tspan dy="-2.5" font-size="5">-1</tspan><tspan dy="2.5">)</tspan></text>
<line x1="133.4" y1="160.4" x2="147.9" y2="160.4" stroke="#ff1f1f" stroke-width="1.1"/>
<circle cx="140.70" cy="160.40" r="2.76" fill="#ff1f1f"/>
<text x="155.40" y="163.60" font-size="8.9" font-weight="normal" font-style="normal" text-anchor="start" fill="#1a1a1a" stroke="#1a1a1a" stroke-width="0" >P&#x2007;0</text>
<path transform="translate(155.40,163.60) scale(1,1.0) scale(0.00435,-0.00435) translate(1366.0,0)" d="M515 0L515 1237L197 1010L197 1180L530 1409L696 1409L696 0Z" fill="#1a1a1a" stroke="#1a1a1a" stroke-width="0.0"/>
<line x1="133.4" y1="173.20000000000002" x2="147.9" y2="173.20000000000002" stroke="#ff1f1f" stroke-width="1.1"/>
<rect x="137.94" y="170.44" width="5.52" height="5.52" fill="#ff1f1f"/>
<text x="155.40" y="176.40" font-size="8.9" font-weight="normal" font-style="normal" text-anchor="start" fill="#1a1a1a" stroke="#1a1a1a" stroke-width="0" >P&#x2007;2</text>
<path transform="translate(155.40,176.40) scale(1,1.0) scale(0.00435,-0.00435) translate(1366.0,0)" d="M515 0L515 1237L197 1010L197 1180L530 1409L696 1409L696 0Z" fill="#1a1a1a" stroke="#1a1a1a" stroke-width="0.0"/>
<line x1="133.4" y1="186.0" x2="147.9" y2="186.0" stroke="#1f1fff" stroke-width="1.1"/>
<path d="M140.70 182.88 L143.82 188.34 L137.58 188.34 Z" fill="#1f1fff"/>
<text x="155.40" y="189.20" font-size="8.9" font-weight="normal" font-style="normal" text-anchor="start" fill="#1a1a1a" stroke="#1a1a1a" stroke-width="0" >P26</text>
<line x1="133.4" y1="198.8" x2="147.9" y2="198.8" stroke="#1f1fff" stroke-width="1.1"/>
<path d="M140.70 201.92 L143.82 196.46 L137.58 196.46 Z" fill="#1f1fff"/>
<text x="155.40" y="202.00" font-size="8.9" font-weight="normal" font-style="normal" text-anchor="start" fill="#1a1a1a" stroke="#1a1a1a" stroke-width="0" >P28</text>
<text x="216.00" y="142.20" font-size="16" font-weight="bold" font-style="normal" text-anchor="start" fill="#000" stroke="#000" stroke-width="0.12" >c</text>
<text x="257.3" y="144" font-size="10" font-weight="bold">VCD<tspan font-size="7.2" dy="2">max</tspan></text>
<line x1="261.50" y1="177.22" x2="261.50" y2="171.10" stroke="#222" stroke-width="0.9"/>
<line x1="258.00" y1="171.10" x2="265.00" y2="171.10" stroke="#222" stroke-width="0.9"/>
<rect x="253.40" y="177.22" width="16.20" height="68.09" fill="#ff1f1f" stroke="#111" stroke-width="1.3"/>
<line x1="287.00" y1="171.65" x2="287.00" y2="159.19" stroke="#222" stroke-width="0.9"/>
<line x1="283.50" y1="159.19" x2="290.50" y2="159.19" stroke="#222" stroke-width="0.9"/>
<rect x="278.90" y="171.65" width="16.20" height="73.65" fill="#1f1fff" stroke="#111" stroke-width="1.3"/>
<line x1="244.30" y1="245.90" x2="244.30" y2="155.80" stroke="#2a2a2a" stroke-width="1.25"/>
<line x1="240.70" y1="245.30" x2="305.10" y2="245.30" stroke="#2a2a2a" stroke-width="1.25"/>
<line x1="240.70" y1="245.50" x2="244.30" y2="245.50" stroke="#2a2a2a" stroke-width="1.05"/>
<text x="239.70" y="247.70" font-size="6.9" font-weight="bold" font-style="normal" text-anchor="end" fill="#111" stroke="#111" stroke-width="0.04" >0</text>
<line x1="240.70" y1="223.50" x2="244.30" y2="223.50" stroke="#2a2a2a" stroke-width="1.05"/>
<text x="239.70" y="225.45" font-size="6.9" font-weight="bold" font-style="normal" text-anchor="end" fill="#111" stroke="#111" stroke-width="0.04" >2</text>
<line x1="240.70" y1="200.50" x2="244.30" y2="200.50" stroke="#2a2a2a" stroke-width="1.05"/>
<text x="239.70" y="203.20" font-size="6.9" font-weight="bold" font-style="normal" text-anchor="end" fill="#111" stroke="#111" stroke-width="0.04" >4</text>
<line x1="240.70" y1="178.50" x2="244.30" y2="178.50" stroke="#2a2a2a" stroke-width="1.05"/>
<text x="239.70" y="180.95" font-size="6.9" font-weight="bold" font-style="normal" text-anchor="end" fill="#111" stroke="#111" stroke-width="0.04" >6</text>
<line x1="240.70" y1="156.50" x2="244.30" y2="156.50" stroke="#2a2a2a" stroke-width="1.05"/>
<text x="239.70" y="158.70" font-size="6.9" font-weight="bold" font-style="normal" text-anchor="end" fill="#111" stroke="#111" stroke-width="0.04" >8</text>
<line x1="261.50" y1="245.3" x2="261.50" y2="248.70000000000002" stroke="#2a2a2a" stroke-width="1"/>
<text x="261.50" y="255.80" font-size="7.4" font-weight="bold" font-style="normal" text-anchor="middle" fill="#111" stroke="#111" stroke-width="0.04" >EP</text>
<line x1="287.00" y1="245.3" x2="287.00" y2="248.70000000000002" stroke="#2a2a2a" stroke-width="1"/>
<text x="287.00" y="255.80" font-size="7.4" font-weight="bold" font-style="normal" text-anchor="middle" fill="#111" stroke="#111" stroke-width="0.04" >LP</text>
<text x="0" y="0" transform="translate(221.60,199.80) rotate(-90)" font-size="7.6" text-anchor="middle" fill="#222" stroke="#222" stroke-width="0.1">Cell density</text>
<text x="0" y="0" transform="translate(231.60,199.80) rotate(-90)" font-size="7.5" text-anchor="middle" fill="#222" stroke="#222" stroke-width="0.1">(x10<tspan dy="-2.5" font-size="5.6">6</tspan><tspan dy="2.5">cells mL</tspan><tspan dy="-2.5" font-size="5">-1</tspan><tspan dy="2.5">)</tspan></text>
<text x="350.00" y="142.20" font-size="16" font-weight="bold" font-style="normal" text-anchor="start" fill="#000" stroke="#000" stroke-width="0.12" >d</text>
<text x="445.40" y="145.00" font-size="10" font-weight="bold" font-style="normal" text-anchor="middle" fill="#000" stroke="#000" stroke-width="0.12" >IgG</text>
<line x1="378.30" y1="248.70" x2="378.30" y2="155.70" stroke="#2a2a2a" stroke-width="1.25"/>
<line x1="374.70" y1="245.30" x2="512.40" y2="245.30" stroke="#2a2a2a" stroke-width="1.25"/>
<line x1="374.70" y1="245.50" x2="378.30" y2="245.50" stroke="#2a2a2a" stroke-width="1.05"/>
<text x="373.70" y="247.70" font-size="6.9" font-weight="bold" font-style="normal" text-anchor="end" fill="#111" stroke="#111" stroke-width="0.04" >0</text>
<line x1="374.70" y1="223.50" x2="378.30" y2="223.50" stroke="#2a2a2a" stroke-width="1.05"/>
<text x="373.70" y="225.43" font-size="6.9" font-weight="bold" font-style="normal" text-anchor="end" fill="#111" stroke="#111" stroke-width="0.04" >50</text>
<line x1="374.70" y1="200.50" x2="378.30" y2="200.50" stroke="#2a2a2a" stroke-width="1.05"/>
<text x="373.70" y="203.15" font-size="6.9" font-weight="bold" font-style="normal" text-anchor="end" fill="#111" stroke="#111" stroke-width="0.04" >&#x2007;00</text>
<path transform="translate(373.70,203.15) scale(1,1.0) scale(0.00337,-0.00337) translate(-3417.0,0)" d="M478 0L478 1170L140 959L140 1180L493 1409L759 1409L759 0Z" fill="#111" stroke="#111" stroke-width="11.9"/>
<line x1="374.70" y1="178.50" x2="378.30" y2="178.50" stroke="#2a2a2a" stroke-width="1.05"/>
<text x="373.70" y="180.88" font-size="6.9" font-weight="bold" font-style="normal" text-anchor="end" fill="#111" stroke="#111" stroke-width="0.04" >&#x2007;50</text>
<path transform="translate(373.70,180.88) scale(1,1.0) scale(0.00337,-0.00337) translate(-3417.0,0)" d="M478 0L478 1170L140 959L140 1180L493 1409L759 1409L759 0Z" fill="#111" stroke="#111" stroke-width="11.9"/>
<line x1="374.70" y1="156.50" x2="378.30" y2="156.50" stroke="#2a2a2a" stroke-width="1.05"/>
<text x="373.70" y="158.60" font-size="6.9" font-weight="bold" font-style="normal" text-anchor="end" fill="#111" stroke="#111" stroke-width="0.04" >200</text>
<line x1="378.50" y1="245.3" x2="378.50" y2="248.70000000000002" stroke="#2a2a2a" stroke-width="1.05"/>
<text x="378.30" y="256.70" font-size="6.9" font-weight="bold" font-style="normal" text-anchor="middle" fill="#111" stroke="#111" stroke-width="0.04" >0</text>
<line x1="387.50" y1="245.3" x2="387.50" y2="247.5" stroke="#2a2a2a" stroke-width="1"/>
<line x1="396.50" y1="245.3" x2="396.50" y2="247.5" stroke="#2a2a2a" stroke-width="1"/>
<line x1="405.50" y1="245.3" x2="405.50" y2="247.5" stroke="#2a2a2a" stroke-width="1"/>
<line x1="413.50" y1="245.3" x2="413.50" y2="247.5" stroke="#2a2a2a" stroke-width="1"/>
<line x1="422.50" y1="245.3" x2="422.50" y2="248.70000000000002" stroke="#2a2a2a" stroke-width="1.05"/>
<text x="422.83" y="256.70" font-size="6.9" font-weight="bold" font-style="normal" text-anchor="middle" fill="#111" stroke="#111" stroke-width="0.04" >5</text>
<line x1="431.50" y1="245.3" x2="431.50" y2="247.5" stroke="#2a2a2a" stroke-width="1"/>
<line x1="440.50" y1="245.3" x2="440.50" y2="247.5" stroke="#2a2a2a" stroke-width="1"/>
<line x1="449.50" y1="245.3" x2="449.50" y2="247.5" stroke="#2a2a2a" stroke-width="1"/>
<line x1="458.50" y1="245.3" x2="458.50" y2="247.5" stroke="#2a2a2a" stroke-width="1"/>
<line x1="467.50" y1="245.3" x2="467.50" y2="248.70000000000002" stroke="#2a2a2a" stroke-width="1.05"/>
<text x="467.37" y="256.70" font-size="6.9" font-weight="bold" font-style="normal" text-anchor="middle" fill="#111" stroke="#111" stroke-width="0.04" >&#x2007;0</text>
<path transform="translate(467.37,256.70) scale(1,1.0) scale(0.00337,-0.00337) translate(-1139.0,0)" d="M478 0L478 1170L140 959L140 1180L493 1409L759 1409L759 0Z" fill="#111" stroke="#111" stroke-width="11.9"/>
<line x1="476.50" y1="245.3" x2="476.50" y2="247.5" stroke="#2a2a2a" stroke-width="1"/>
<line x1="485.50" y1="245.3" x2="485.50" y2="247.5" stroke="#2a2a2a" stroke-width="1"/>
<line x1="494.50" y1="245.3" x2="494.50" y2="247.5" stroke="#2a2a2a" stroke-width="1"/>
<line x1="502.50" y1="245.3" x2="502.50" y2="247.5" stroke="#2a2a2a" stroke-width="1"/>
<line x1="511.50" y1="245.3" x2="511.50" y2="248.70000000000002" stroke="#2a2a2a" stroke-width="1.05"/>
<text x="511.90" y="256.70" font-size="6.9" font-weight="bold" font-style="normal" text-anchor="middle" fill="#111" stroke="#111" stroke-width="0.04" >&#x2007;5</text>
<path transform="translate(511.90,256.70) scale(1,1.0) scale(0.00337,-0.00337) translate(-1139.0,0)" d="M478 0L478 1170L140 959L140 1180L493 1409L759 1409L759 0Z" fill="#111" stroke="#111" stroke-width="11.9"/>
<text x="445.10" y="267.10" font-size="7.3" font-weight="normal" font-style="normal" text-anchor="middle" fill="#222" stroke="#222" stroke-width="0.12" >Day</text>
<line x1="396.11" y1="241.74" x2="396.11" y2="242.63" stroke="#1f1fff" stroke-width="0.7" opacity="0.75"/>
<line x1="394.51" y1="241.74" x2="397.71" y2="241.74" stroke="#1f1fff" stroke-width="0.7" opacity="0.75"/>
<line x1="394.51" y1="242.63" x2="397.71" y2="242.63" stroke="#1f1fff" stroke-width="0.7" opacity="0.75"/>
<line x1="413.93" y1="233.27" x2="413.93" y2="235.05" stroke="#1f1fff" stroke-width="0.7" opacity="0.75"/>
<line x1="412.33" y1="233.27" x2="415.53" y2="233.27" stroke="#1f1fff" stroke-width="0.7" opacity="0.75"/>
<line x1="412.33" y1="235.05" x2="415.53" y2="235.05" stroke="#1f1fff" stroke-width="0.7" opacity="0.75"/>
<line x1="431.74" y1="207.43" x2="431.74" y2="211.89" stroke="#1f1fff" stroke-width="0.7" opacity="0.75"/>
<line x1="430.14" y1="207.43" x2="433.34" y2="207.43" stroke="#1f1fff" stroke-width="0.7" opacity="0.75"/>
<line x1="430.14" y1="211.89" x2="433.34" y2="211.89" stroke="#1f1fff" stroke-width="0.7" opacity="0.75"/>
<line x1="449.55" y1="193.18" x2="449.55" y2="196.74" stroke="#1f1fff" stroke-width="0.7" opacity="0.75"/>
<line x1="447.95" y1="193.18" x2="451.15" y2="193.18" stroke="#1f1fff" stroke-width="0.7" opacity="0.75"/>
<line x1="447.95" y1="196.74" x2="451.15" y2="196.74" stroke="#1f1fff" stroke-width="0.7" opacity="0.75"/>
<line x1="467.37" y1="189.17" x2="467.37" y2="191.84" stroke="#1f1fff" stroke-width="0.7" opacity="0.75"/>
<line x1="465.77" y1="189.17" x2="468.97" y2="189.17" stroke="#1f1fff" stroke-width="0.7" opacity="0.75"/>
<line x1="465.77" y1="191.84" x2="468.97" y2="191.84" stroke="#1f1fff" stroke-width="0.7" opacity="0.75"/>
<line x1="485.18" y1="190.06" x2="485.18" y2="192.73" stroke="#1f1fff" stroke-width="0.7" opacity="0.75"/>
<line x1="483.58" y1="190.06" x2="486.78" y2="190.06" stroke="#1f1fff" stroke-width="0.7" opacity="0.75"/>
<line x1="483.58" y1="192.73" x2="486.78" y2="192.73" stroke="#1f1fff" stroke-width="0.7" opacity="0.75"/>
<line x1="502.99" y1="193.18" x2="502.99" y2="194.96" stroke="#1f1fff" stroke-width="0.7" opacity="0.75"/>
<line x1="501.39" y1="193.18" x2="504.59" y2="193.18" stroke="#1f1fff" stroke-width="0.7" opacity="0.75"/>
<line x1="501.39" y1="194.96" x2="504.59" y2="194.96" stroke="#1f1fff" stroke-width="0.7" opacity="0.75"/>
<polyline points="378.30,245.30 396.11,242.18 413.93,234.16 431.74,209.66 449.55,194.96 467.37,190.50 485.18,191.39 502.99,194.07" fill="none" stroke="#1f1fff" stroke-width="0.8"/>
<path d="M378.30 242.91 L380.69 247.09 L375.91 247.09 Z" fill="#1f1fff"/>
<path d="M396.11 239.79 L398.51 243.98 L393.72 243.98 Z" fill="#1f1fff"/>
<path d="M413.93 231.77 L416.32 235.96 L411.53 235.96 Z" fill="#1f1fff"/>
<path d="M431.74 207.27 L434.13 211.45 L429.35 211.45 Z" fill="#1f1fff"/>
<path d="M449.55 192.57 L451.95 196.75 L447.16 196.75 Z" fill="#1f1fff"/>
<path d="M467.37 188.11 L469.76 192.30 L464.97 192.30 Z" fill="#1f1fff"/>
<path d="M485.18 189.00 L487.57 193.19 L482.79 193.19 Z" fill="#1f1fff"/>
<path d="M502.99 191.68 L505.39 195.86 L500.60 195.86 Z" fill="#1f1fff"/>
<line x1="396.11" y1="241.74" x2="396.11" y2="242.63" stroke="#1f1fff" stroke-width="0.7" opacity="0.75"/>
<line x1="394.51" y1="241.74" x2="397.71" y2="241.74" stroke="#1f1fff" stroke-width="0.7" opacity="0.75"/>
<line x1="394.51" y1="242.63" x2="397.71" y2="242.63" stroke="#1f1fff" stroke-width="0.7" opacity="0.75"/>
<line x1="413.93" y1="233.27" x2="413.93" y2="235.05" stroke="#1f1fff" stroke-width="0.7" opacity="0.75"/>
<line x1="412.33" y1="233.27" x2="415.53" y2="233.27" stroke="#1f1fff" stroke-width="0.7" opacity="0.75"/>
<line x1="412.33" y1="235.05" x2="415.53" y2="235.05" stroke="#1f1fff" stroke-width="0.7" opacity="0.75"/>
<line x1="431.74" y1="205.65" x2="431.74" y2="210.11" stroke="#1f1fff" stroke-width="0.7" opacity="0.75"/>
<line x1="430.14" y1="205.65" x2="433.34" y2="205.65" stroke="#1f1fff" stroke-width="0.7" opacity="0.75"/>
<line x1="430.14" y1="210.11" x2="433.34" y2="210.11" stroke="#1f1fff" stroke-width="0.7" opacity="0.75"/>
<line x1="449.55" y1="193.18" x2="449.55" y2="196.74" stroke="#1f1fff" stroke-width="0.7" opacity="0.75"/>
<line x1="447.95" y1="193.18" x2="451.15" y2="193.18" stroke="#1f1fff" stroke-width="0.7" opacity="0.75"/>
<line x1="447.95" y1="196.74" x2="451.15" y2="196.74" stroke="#1f1fff" stroke-width="0.7" opacity="0.75"/>
<line x1="467.37" y1="190.06" x2="467.37" y2="192.73" stroke="#1f1fff" stroke-width="0.7" opacity="0.75"/>
<line x1="465.77" y1="190.06" x2="468.97" y2="190.06" stroke="#1f1fff" stroke-width="0.7" opacity="0.75"/>
<line x1="465.77" y1="192.73" x2="468.97" y2="192.73" stroke="#1f1fff" stroke-width="0.7" opacity="0.75"/>
<line x1="485.18" y1="191.39" x2="485.18" y2="194.07" stroke="#1f1fff" stroke-width="0.7" opacity="0.75"/>
<line x1="483.58" y1="191.39" x2="486.78" y2="191.39" stroke="#1f1fff" stroke-width="0.7" opacity="0.75"/>
<line x1="483.58" y1="194.07" x2="486.78" y2="194.07" stroke="#1f1fff" stroke-width="0.7" opacity="0.75"/>
<line x1="502.99" y1="193.18" x2="502.99" y2="194.96" stroke="#1f1fff" stroke-width="0.7" opacity="0.75"/>
<line x1="501.39" y1="193.18" x2="504.59" y2="193.18" stroke="#1f1fff" stroke-width="0.7" opacity="0.75"/>
<line x1="501.39" y1="194.96" x2="504.59" y2="194.96" stroke="#1f1fff" stroke-width="0.7" opacity="0.75"/>
<polyline points="378.30,245.30 396.11,242.18 413.93,234.16 431.74,207.88 449.55,194.96 467.37,191.39 485.18,192.73 502.99,194.07" fill="none" stroke="#1f1fff" stroke-width="0.8"/>
<path d="M378.30 247.69 L380.69 243.51 L375.91 243.51 Z" fill="#1f1fff"/>
<path d="M396.11 244.57 L398.51 240.39 L393.72 240.39 Z" fill="#1f1fff"/>
<path d="M413.93 236.55 L416.32 232.37 L411.53 232.37 Z" fill="#1f1fff"/>
<path d="M431.74 210.27 L434.13 206.08 L429.35 206.08 Z" fill="#1f1fff"/>
<path d="M449.55 197.35 L451.95 193.16 L447.16 193.16 Z" fill="#1f1fff"/>
<path d="M467.37 193.79 L469.76 189.60 L464.97 189.60 Z" fill="#1f1fff"/>
<path d="M485.18 195.12 L487.57 190.94 L482.79 190.94 Z" fill="#1f1fff"/>
<path d="M502.99 196.46 L505.39 192.27 L500.60 192.27 Z" fill="#1f1fff"/>
<line x1="396.11" y1="240.40" x2="396.11" y2="241.29" stroke="#ff1f1f" stroke-width="0.7" opacity="0.75"/>
<line x1="394.51" y1="240.40" x2="397.71" y2="240.40" stroke="#ff1f1f" stroke-width="0.7" opacity="0.75"/>
<line x1="394.51" y1="241.29" x2="397.71" y2="241.29" stroke="#ff1f1f" stroke-width="0.7" opacity="0.75"/>
<line x1="413.93" y1="230.60" x2="413.93" y2="233.27" stroke="#ff1f1f" stroke-width="0.7" opacity="0.75"/>
<line x1="412.33" y1="230.60" x2="415.53" y2="230.60" stroke="#ff1f1f" stroke-width="0.7" opacity="0.75"/>
<line x1="412.33" y1="233.27" x2="415.53" y2="233.27" stroke="#ff1f1f" stroke-width="0.7" opacity="0.75"/>
<line x1="431.74" y1="201.20" x2="431.74" y2="224.36" stroke="#ff1f1f" stroke-width="0.7" opacity="0.75"/>
<line x1="430.14" y1="201.20" x2="433.34" y2="201.20" stroke="#ff1f1f" stroke-width="0.7" opacity="0.75"/>
<line x1="430.14" y1="224.36" x2="433.34" y2="224.36" stroke="#ff1f1f" stroke-width="0.7" opacity="0.75"/>
<line x1="449.55" y1="178.03" x2="449.55" y2="180.70" stroke="#ff1f1f" stroke-width="0.7" opacity="0.75"/>
<line x1="447.95" y1="178.03" x2="451.15" y2="178.03" stroke="#ff1f1f" stroke-width="0.7" opacity="0.75"/>
<line x1="447.95" y1="180.70" x2="451.15" y2="180.70" stroke="#ff1f1f" stroke-width="0.7" opacity="0.75"/>
<line x1="467.37" y1="170.90" x2="467.37" y2="173.57" stroke="#ff1f1f" stroke-width="0.7" opacity="0.75"/>
<line x1="465.77" y1="170.90" x2="468.97" y2="170.90" stroke="#ff1f1f" stroke-width="0.7" opacity="0.75"/>
<line x1="465.77" y1="173.57" x2="468.97" y2="173.57" stroke="#ff1f1f" stroke-width="0.7" opacity="0.75"/>
<line x1="485.18" y1="172.68" x2="485.18" y2="176.25" stroke="#ff1f1f" stroke-width="0.7" opacity="0.75"/>
<line x1="483.58" y1="172.68" x2="486.78" y2="172.68" stroke="#ff1f1f" stroke-width="0.7" opacity="0.75"/>
<line x1="483.58" y1="176.25" x2="486.78" y2="176.25" stroke="#ff1f1f" stroke-width="0.7" opacity="0.75"/>
<line x1="502.99" y1="174.02" x2="502.99" y2="176.69" stroke="#ff1f1f" stroke-width="0.7" opacity="0.75"/>
<line x1="501.39" y1="174.02" x2="504.59" y2="174.02" stroke="#ff1f1f" stroke-width="0.7" opacity="0.75"/>
<line x1="501.39" y1="176.69" x2="504.59" y2="176.69" stroke="#ff1f1f" stroke-width="0.7" opacity="0.75"/>
<polyline points="378.30,245.30 396.11,240.84 413.93,231.94 431.74,212.78 449.55,179.37 467.37,172.24 485.18,174.47 502.99,175.36" fill="none" stroke="#ff1f1f" stroke-width="0.8"/>
<circle cx="378.30" cy="245.30" r="2.12" fill="#ff1f1f"/>
<circle cx="396.11" cy="240.84" r="2.12" fill="#ff1f1f"/>
<circle cx="413.93" cy="231.94" r="2.12" fill="#ff1f1f"/>
<circle cx="431.74" cy="212.78" r="2.12" fill="#ff1f1f"/>
<circle cx="449.55" cy="179.37" r="2.12" fill="#ff1f1f"/>
<circle cx="467.37" cy="172.24" r="2.12" fill="#ff1f1f"/>
<circle cx="485.18" cy="174.47" r="2.12" fill="#ff1f1f"/>
<circle cx="502.99" cy="175.36" r="2.12" fill="#ff1f1f"/>
<line x1="396.11" y1="240.40" x2="396.11" y2="241.29" stroke="#ff1f1f" stroke-width="0.7" opacity="0.75"/>
<line x1="394.51" y1="240.40" x2="397.71" y2="240.40" stroke="#ff1f1f" stroke-width="0.7" opacity="0.75"/>
<line x1="394.51" y1="241.29" x2="397.71" y2="241.29" stroke="#ff1f1f" stroke-width="0.7" opacity="0.75"/>
<line x1="413.93" y1="228.82" x2="413.93" y2="231.49" stroke="#ff1f1f" stroke-width="0.7" opacity="0.75"/>
<line x1="412.33" y1="228.82" x2="415.53" y2="228.82" stroke="#ff1f1f" stroke-width="0.7" opacity="0.75"/>
<line x1="412.33" y1="231.49" x2="415.53" y2="231.49" stroke="#ff1f1f" stroke-width="0.7" opacity="0.75"/>
<line x1="431.74" y1="194.96" x2="431.74" y2="199.41" stroke="#ff1f1f" stroke-width="0.7" opacity="0.75"/>
<line x1="430.14" y1="194.96" x2="433.34" y2="194.96" stroke="#ff1f1f" stroke-width="0.7" opacity="0.75"/>
<line x1="430.14" y1="199.41" x2="433.34" y2="199.41" stroke="#ff1f1f" stroke-width="0.7" opacity="0.75"/>
<line x1="449.55" y1="175.36" x2="449.55" y2="178.92" stroke="#ff1f1f" stroke-width="0.7" opacity="0.75"/>
<line x1="447.95" y1="175.36" x2="451.15" y2="175.36" stroke="#ff1f1f" stroke-width="0.7" opacity="0.75"/>
<line x1="447.95" y1="178.92" x2="451.15" y2="178.92" stroke="#ff1f1f" stroke-width="0.7" opacity="0.75"/>
<line x1="467.37" y1="170.01" x2="467.37" y2="172.68" stroke="#ff1f1f" stroke-width="0.7" opacity="0.75"/>
<line x1="465.77" y1="170.01" x2="468.97" y2="170.01" stroke="#ff1f1f" stroke-width="0.7" opacity="0.75"/>
<line x1="465.77" y1="172.68" x2="468.97" y2="172.68" stroke="#ff1f1f" stroke-width="0.7" opacity="0.75"/>
<line x1="485.18" y1="177.58" x2="485.18" y2="180.26" stroke="#ff1f1f" stroke-width="0.7" opacity="0.75"/>
<line x1="483.58" y1="177.58" x2="486.78" y2="177.58" stroke="#ff1f1f" stroke-width="0.7" opacity="0.75"/>
<line x1="483.58" y1="180.26" x2="486.78" y2="180.26" stroke="#ff1f1f" stroke-width="0.7" opacity="0.75"/>
<line x1="502.99" y1="178.03" x2="502.99" y2="180.70" stroke="#ff1f1f" stroke-width="0.7" opacity="0.75"/>
<line x1="501.39" y1="178.03" x2="504.59" y2="178.03" stroke="#ff1f1f" stroke-width="0.7" opacity="0.75"/>
<line x1="501.39" y1="180.70" x2="504.59" y2="180.70" stroke="#ff1f1f" stroke-width="0.7" opacity="0.75"/>
<polyline points="378.30,245.30 396.11,240.84 413.93,230.15 431.74,197.19 449.55,177.14 467.37,171.35 485.18,178.92 502.99,179.37" fill="none" stroke="#ff1f1f" stroke-width="0.8"/>
<rect x="376.18" y="243.18" width="4.23" height="4.23" fill="#ff1f1f"/>
<rect x="394.00" y="238.73" width="4.23" height="4.23" fill="#ff1f1f"/>
<rect x="411.81" y="228.04" width="4.23" height="4.23" fill="#ff1f1f"/>
<rect x="429.62" y="195.07" width="4.23" height="4.23" fill="#ff1f1f"/>
<rect x="447.44" y="175.02" width="4.23" height="4.23" fill="#ff1f1f"/>
<rect x="465.25" y="169.23" width="4.23" height="4.23" fill="#ff1f1f"/>
<rect x="483.06" y="176.80" width="4.23" height="4.23" fill="#ff1f1f"/>
<rect x="500.88" y="177.25" width="4.23" height="4.23" fill="#ff1f1f"/>
<text x="0" y="0" transform="translate(357.60,200.20) rotate(-90)" font-size="7.5" text-anchor="middle" fill="#222" stroke="#222" stroke-width="0.1">Titer (mg L<tspan dy="-2.5" font-size="5">-1</tspan><tspan dy="2.5">)</tspan></text>
<text x="559.80" y="142.20" font-size="16" font-weight="bold" font-style="normal" text-anchor="start" fill="#000" stroke="#000" stroke-width="0.12" >e</text>
<text x="600.5" y="144" font-size="10" font-weight="bold">IgG<tspan font-size="7.2" dy="2">max</tspan></text>
<line x1="603.30" y1="171.26" x2="603.30" y2="169.48" stroke="#222" stroke-width="0.9"/>
<line x1="599.80" y1="169.48" x2="606.80" y2="169.48" stroke="#222" stroke-width="0.9"/>
<rect x="595.20" y="171.26" width="16.20" height="74.04" fill="#ff1f1f" stroke="#111" stroke-width="1.3"/>
<line x1="628.80" y1="190.89" x2="628.80" y2="189.77" stroke="#222" stroke-width="0.9"/>
<line x1="625.30" y1="189.77" x2="632.30" y2="189.77" stroke="#222" stroke-width="0.9"/>
<rect x="620.70" y="190.89" width="16.20" height="54.41" fill="#1f1fff" stroke="#111" stroke-width="1.3"/>
<line x1="586.10" y1="245.90" x2="586.10" y2="155.60" stroke="#2a2a2a" stroke-width="1.25"/>
<line x1="582.50" y1="245.30" x2="646.10" y2="245.30" stroke="#2a2a2a" stroke-width="1.25"/>
<line x1="582.50" y1="245.50" x2="586.10" y2="245.50" stroke="#2a2a2a" stroke-width="1.05"/>
<text x="581.50" y="247.70" font-size="6.9" font-weight="bold" font-style="normal" text-anchor="end" fill="#111" stroke="#111" stroke-width="0.04" >0</text>
<line x1="582.50" y1="223.50" x2="586.10" y2="223.50" stroke="#2a2a2a" stroke-width="1.05"/>
<text x="581.50" y="225.40" font-size="6.9" font-weight="bold" font-style="normal" text-anchor="end" fill="#111" stroke="#111" stroke-width="0.04" >50</text>
<line x1="582.50" y1="200.50" x2="586.10" y2="200.50" stroke="#2a2a2a" stroke-width="1.05"/>
<text x="581.50" y="203.10" font-size="6.9" font-weight="bold" font-style="normal" text-anchor="end" fill="#111" stroke="#111" stroke-width="0.04" >&#x2007;00</text>
<path transform="translate(581.50,203.10) scale(1,1.0) scale(0.00337,-0.00337) translate(-3417.0,0)" d="M478 0L478 1170L140 959L140 1180L493 1409L759 1409L759 0Z" fill="#111" stroke="#111" stroke-width="11.9"/>
<line x1="582.50" y1="178.50" x2="586.10" y2="178.50" stroke="#2a2a2a" stroke-width="1.05"/>
<text x="581.50" y="180.80" font-size="6.9" font-weight="bold" font-style="normal" text-anchor="end" fill="#111" stroke="#111" stroke-width="0.04" >&#x2007;50</text>
<path transform="translate(581.50,180.80) scale(1,1.0) scale(0.00337,-0.00337) translate(-3417.0,0)" d="M478 0L478 1170L140 959L140 1180L493 1409L759 1409L759 0Z" fill="#111" stroke="#111" stroke-width="11.9"/>
<line x1="582.50" y1="156.50" x2="586.10" y2="156.50" stroke="#2a2a2a" stroke-width="1.05"/>
<text x="581.50" y="158.50" font-size="6.9" font-weight="bold" font-style="normal" text-anchor="end" fill="#111" stroke="#111" stroke-width="0.04" >200</text>
<line x1="603.30" y1="245.3" x2="603.30" y2="248.70000000000002" stroke="#2a2a2a" stroke-width="1"/>
<text x="603.30" y="255.80" font-size="7.4" font-weight="bold" font-style="normal" text-anchor="middle" fill="#111" stroke="#111" stroke-width="0.04" >EP</text>
<line x1="628.80" y1="245.3" x2="628.80" y2="248.70000000000002" stroke="#2a2a2a" stroke-width="1"/>
<text x="628.80" y="255.80" font-size="7.4" font-weight="bold" font-style="normal" text-anchor="middle" fill="#111" stroke="#111" stroke-width="0.04" >LP</text>
<text x="0" y="0" transform="translate(566.80,199.80) rotate(-90)" font-size="7.5" text-anchor="middle" fill="#222" stroke="#222" stroke-width="0.1">Titer (mg L<tspan dy="-2.5" font-size="5">-1</tspan><tspan dy="2.5">)</tspan></text>
<text x="1.80" y="290.70" font-size="16" font-weight="bold" font-style="normal" text-anchor="start" fill="#000" stroke="#000" stroke-width="0.12" >f</text>
<text x="102.45" y="288.80" font-size="10" font-weight="bold" font-style="normal" text-anchor="middle" fill="#000" stroke="#000" stroke-width="0.12" >Glucose</text>
<line x1="35.15" y1="393.60" x2="35.15" y2="299.90" stroke="#2a2a2a" stroke-width="1.25"/>
<line x1="31.55" y1="390.20" x2="170.25" y2="390.20" stroke="#2a2a2a" stroke-width="1.25"/>
<line x1="31.55" y1="390.50" x2="35.15" y2="390.50" stroke="#2a2a2a" stroke-width="1.05"/>
<text x="30.55" y="392.60" font-size="6.9" font-weight="bold" font-style="normal" text-anchor="end" fill="#111" stroke="#111" stroke-width="0.04" >0</text>
<line x1="31.55" y1="367.50" x2="35.15" y2="367.50" stroke="#2a2a2a" stroke-width="1.05"/>
<text x="30.55" y="370.15" font-size="6.9" font-weight="bold" font-style="normal" text-anchor="end" fill="#111" stroke="#111" stroke-width="0.04" >2</text>
<line x1="31.55" y1="345.50" x2="35.15" y2="345.50" stroke="#2a2a2a" stroke-width="1.05"/>
<text x="30.55" y="347.70" font-size="6.9" font-weight="bold" font-style="normal" text-anchor="end" fill="#111" stroke="#111" stroke-width="0.04" >4</text>
<line x1="31.55" y1="322.50" x2="35.15" y2="322.50" stroke="#2a2a2a" stroke-width="1.05"/>
<text x="30.55" y="325.25" font-size="6.9" font-weight="bold" font-style="normal" text-anchor="end" fill="#111" stroke="#111" stroke-width="0.04" >6</text>
<line x1="31.55" y1="300.50" x2="35.15" y2="300.50" stroke="#2a2a2a" stroke-width="1.05"/>
<text x="30.55" y="302.80" font-size="6.9" font-weight="bold" font-style="normal" text-anchor="end" fill="#111" stroke="#111" stroke-width="0.04" >8</text>
<line x1="35.50" y1="390.2" x2="35.50" y2="393.59999999999997" stroke="#2a2a2a" stroke-width="1.05"/>
<text x="35.15" y="401.60" font-size="6.9" font-weight="bold" font-style="normal" text-anchor="middle" fill="#111" stroke="#111" stroke-width="0.04" >0</text>
<line x1="44.50" y1="390.2" x2="44.50" y2="392.4" stroke="#2a2a2a" stroke-width="1"/>
<line x1="53.50" y1="390.2" x2="53.50" y2="392.4" stroke="#2a2a2a" stroke-width="1"/>
<line x1="62.50" y1="390.2" x2="62.50" y2="392.4" stroke="#2a2a2a" stroke-width="1"/>
<line x1="71.50" y1="390.2" x2="71.50" y2="392.4" stroke="#2a2a2a" stroke-width="1"/>
<line x1="80.50" y1="390.2" x2="80.50" y2="393.59999999999997" stroke="#2a2a2a" stroke-width="1.05"/>
<text x="80.02" y="401.60" font-size="6.9" font-weight="bold" font-style="normal" text-anchor="middle" fill="#111" stroke="#111" stroke-width="0.04" >5</text>
<line x1="88.50" y1="390.2" x2="88.50" y2="392.4" stroke="#2a2a2a" stroke-width="1"/>
<line x1="97.50" y1="390.2" x2="97.50" y2="392.4" stroke="#2a2a2a" stroke-width="1"/>
<line x1="106.50" y1="390.2" x2="106.50" y2="392.4" stroke="#2a2a2a" stroke-width="1"/>
<line x1="115.50" y1="390.2" x2="115.50" y2="392.4" stroke="#2a2a2a" stroke-width="1"/>
<line x1="124.50" y1="390.2" x2="124.50" y2="393.59999999999997" stroke="#2a2a2a" stroke-width="1.05"/>
<text x="124.88" y="401.60" font-size="6.9" font-weight="bold" font-style="normal" text-anchor="middle" fill="#111" stroke="#111" stroke-width="0.04" >&#x2007;0</text>
<path transform="translate(124.88,401.60) scale(1,1.0) scale(0.00337,-0.00337) translate(-1139.0,0)" d="M478 0L478 1170L140 959L140 1180L493 1409L759 1409L759 0Z" fill="#111" stroke="#111" stroke-width="11.9"/>
<line x1="133.50" y1="390.2" x2="133.50" y2="392.4" stroke="#2a2a2a" stroke-width="1"/>
<line x1="142.50" y1="390.2" x2="142.50" y2="392.4" stroke="#2a2a2a" stroke-width="1"/>
<line x1="151.50" y1="390.2" x2="151.50" y2="392.4" stroke="#2a2a2a" stroke-width="1"/>
<line x1="160.50" y1="390.2" x2="160.50" y2="392.4" stroke="#2a2a2a" stroke-width="1"/>
<line x1="169.50" y1="390.2" x2="169.50" y2="393.59999999999997" stroke="#2a2a2a" stroke-width="1.05"/>
<text x="169.75" y="401.60" font-size="6.9" font-weight="bold" font-style="normal" text-anchor="middle" fill="#111" stroke="#111" stroke-width="0.04" >&#x2007;5</text>
<path transform="translate(169.75,401.60) scale(1,1.0) scale(0.00337,-0.00337) translate(-1139.0,0)" d="M478 0L478 1170L140 959L140 1180L493 1409L759 1409L759 0Z" fill="#111" stroke="#111" stroke-width="11.9"/>
<text x="102.45" y="412.00" font-size="7.3" font-weight="normal" font-style="normal" text-anchor="middle" fill="#222" stroke="#222" stroke-width="0.12" >Day</text>
<polyline points="35.15,315.55 53.10,327.34 71.04,350.35 88.99,376.17 106.94,389.64 124.88,390.20 142.83,390.20 160.78,390.20" fill="none" stroke="#1f1fff" stroke-width="0.8"/>
<path d="M35.15 313.16 L37.54 317.35 L32.76 317.35 Z" fill="#1f1fff"/>
<path d="M53.10 324.95 L55.49 329.13 L50.70 329.13 Z" fill="#1f1fff"/>
<path d="M71.04 347.96 L73.44 352.15 L68.65 352.15 Z" fill="#1f1fff"/>
<path d="M88.99 373.78 L91.38 377.96 L86.60 377.96 Z" fill="#1f1fff"/>
<path d="M106.94 387.25 L109.33 391.43 L104.54 391.43 Z" fill="#1f1fff"/>
<path d="M124.88 387.81 L127.28 391.99 L122.49 391.99 Z" fill="#1f1fff"/>
<path d="M142.83 387.81 L145.22 391.99 L140.44 391.99 Z" fill="#1f1fff"/>
<path d="M160.78 387.81 L163.17 391.99 L158.38 391.99 Z" fill="#1f1fff"/>
<polyline points="35.15,315.55 53.10,326.22 71.04,349.79 88.99,376.17 106.94,389.64 124.88,390.20 142.83,390.20 160.78,390.20" fill="none" stroke="#1f1fff" stroke-width="0.8"/>
<path d="M35.15 317.95 L37.54 313.76 L32.76 313.76 Z" fill="#1f1fff"/>
<path d="M53.10 328.61 L55.49 324.42 L50.70 324.42 Z" fill="#1f1fff"/>
<path d="M71.04 352.18 L73.44 348.00 L68.65 348.00 Z" fill="#1f1fff"/>
<path d="M88.99 378.56 L91.38 374.37 L86.60 374.37 Z" fill="#1f1fff"/>
<path d="M106.94 392.03 L109.33 387.84 L104.54 387.84 Z" fill="#1f1fff"/>
<path d="M124.88 392.59 L127.28 388.41 L122.49 388.41 Z" fill="#1f1fff"/>
<path d="M142.83 392.59 L145.22 388.41 L140.44 388.41 Z" fill="#1f1fff"/>
<path d="M160.78 392.59 L163.17 388.41 L158.38 388.41 Z" fill="#1f1fff"/>
<polyline points="35.15,316.12 53.10,327.90 71.04,351.47 88.99,378.53 106.94,389.64 124.88,390.20 142.83,390.20 160.78,390.20" fill="none" stroke="#ff1f1f" stroke-width="0.8"/>
<circle cx="35.15" cy="316.12" r="2.12" fill="#ff1f1f"/>
<circle cx="53.10" cy="327.90" r="2.12" fill="#ff1f1f"/>
<circle cx="71.04" cy="351.47" r="2.12" fill="#ff1f1f"/>
<circle cx="88.99" cy="378.53" r="2.12" fill="#ff1f1f"/>
<circle cx="106.94" cy="389.64" r="2.12" fill="#ff1f1f"/>
<circle cx="124.88" cy="390.20" r="2.12" fill="#ff1f1f"/>
<circle cx="142.83" cy="390.20" r="2.12" fill="#ff1f1f"/>
<circle cx="160.78" cy="390.20" r="2.12" fill="#ff1f1f"/>
<polyline points="35.15,316.68 53.10,327.90 71.04,351.47 88.99,377.85 106.94,389.64 124.88,390.20 142.83,390.20 160.78,390.20" fill="none" stroke="#ff1f1f" stroke-width="0.8"/>
<rect x="33.03" y="314.56" width="4.23" height="4.23" fill="#ff1f1f"/>
<rect x="50.98" y="325.79" width="4.23" height="4.23" fill="#ff1f1f"/>
<rect x="68.93" y="349.36" width="4.23" height="4.23" fill="#ff1f1f"/>
<rect x="86.87" y="375.74" width="4.23" height="4.23" fill="#ff1f1f"/>
<rect x="104.82" y="387.52" width="4.23" height="4.23" fill="#ff1f1f"/>
<rect x="122.77" y="388.08" width="4.23" height="4.23" fill="#ff1f1f"/>
<rect x="140.71" y="388.08" width="4.23" height="4.23" fill="#ff1f1f"/>
<rect x="158.66" y="388.08" width="4.23" height="4.23" fill="#ff1f1f"/>
<text x="0" y="0" transform="translate(21.15,345.00) rotate(-90)" font-size="7.5" text-anchor="middle" fill="#222" stroke="#222" stroke-width="0.1">Concentration (g L<tspan dy="-2.5" font-size="5">-1</tspan><tspan dy="2.5">)</tspan></text>
<text x="180.50" y="290.70" font-size="16" font-weight="bold" font-style="normal" text-anchor="start" fill="#000" stroke="#000" stroke-width="0.12" >g</text>
<text x="274.80" y="288.80" font-size="10" font-weight="bold" font-style="normal" text-anchor="middle" fill="#000" stroke="#000" stroke-width="0.12" >Viability</text>
<line x1="207.50" y1="393.30" x2="207.50" y2="299.60" stroke="#2a2a2a" stroke-width="1.25"/>
<line x1="203.90" y1="389.90" x2="342.60" y2="389.90" stroke="#2a2a2a" stroke-width="1.25"/>
<line x1="203.90" y1="389.50" x2="207.50" y2="389.50" stroke="#2a2a2a" stroke-width="1.05"/>
<text x="202.90" y="392.30" font-size="6.9" font-weight="bold" font-style="normal" text-anchor="end" fill="#111" stroke="#111" stroke-width="0.04" >0</text>
<line x1="203.90" y1="345.50" x2="207.50" y2="345.50" stroke="#2a2a2a" stroke-width="1.05"/>
<text x="202.90" y="347.40" font-size="6.9" font-weight="bold" font-style="normal" text-anchor="end" fill="#111" stroke="#111" stroke-width="0.04" >50</text>
<line x1="203.90" y1="300.50" x2="207.50" y2="300.50" stroke="#2a2a2a" stroke-width="1.05"/>
<text x="202.90" y="302.50" font-size="6.9" font-weight="bold" font-style="normal" text-anchor="end" fill="#111" stroke="#111" stroke-width="0.04" >&#x2007;00</text>
<path transform="translate(202.90,302.50) scale(1,1.0) scale(0.00337,-0.00337) translate(-3417.0,0)" d="M478 0L478 1170L140 959L140 1180L493 1409L759 1409L759 0Z" fill="#111" stroke="#111" stroke-width="11.9"/>
<line x1="205.30" y1="380.50" x2="207.50" y2="380.50" stroke="#2a2a2a" stroke-width="1"/>
<line x1="205.30" y1="371.50" x2="207.50" y2="371.50" stroke="#2a2a2a" stroke-width="1"/>
<line x1="205.30" y1="362.50" x2="207.50" y2="362.50" stroke="#2a2a2a" stroke-width="1"/>
<line x1="205.30" y1="353.50" x2="207.50" y2="353.50" stroke="#2a2a2a" stroke-width="1"/>
<line x1="205.30" y1="336.50" x2="207.50" y2="336.50" stroke="#2a2a2a" stroke-width="1"/>
<line x1="205.30" y1="327.50" x2="207.50" y2="327.50" stroke="#2a2a2a" stroke-width="1"/>
<line x1="205.30" y1="318.50" x2="207.50" y2="318.50" stroke="#2a2a2a" stroke-width="1"/>
<line x1="205.30" y1="309.50" x2="207.50" y2="309.50" stroke="#2a2a2a" stroke-width="1"/>
<line x1="207.50" y1="389.9" x2="207.50" y2="393.29999999999995" stroke="#2a2a2a" stroke-width="1.05"/>
<text x="207.50" y="401.30" font-size="6.9" font-weight="bold" font-style="normal" text-anchor="middle" fill="#111" stroke="#111" stroke-width="0.04" >0</text>
<line x1="216.50" y1="389.9" x2="216.50" y2="392.09999999999997" stroke="#2a2a2a" stroke-width="1"/>
<line x1="225.50" y1="389.9" x2="225.50" y2="392.09999999999997" stroke="#2a2a2a" stroke-width="1"/>
<line x1="234.50" y1="389.9" x2="234.50" y2="392.09999999999997" stroke="#2a2a2a" stroke-width="1"/>
<line x1="243.50" y1="389.9" x2="243.50" y2="392.09999999999997" stroke="#2a2a2a" stroke-width="1"/>
<line x1="252.50" y1="389.9" x2="252.50" y2="393.29999999999995" stroke="#2a2a2a" stroke-width="1.05"/>
<text x="252.37" y="401.30" font-size="6.9" font-weight="bold" font-style="normal" text-anchor="middle" fill="#111" stroke="#111" stroke-width="0.04" >5</text>
<line x1="261.50" y1="389.9" x2="261.50" y2="392.09999999999997" stroke="#2a2a2a" stroke-width="1"/>
<line x1="270.50" y1="389.9" x2="270.50" y2="392.09999999999997" stroke="#2a2a2a" stroke-width="1"/>
<line x1="279.50" y1="389.9" x2="279.50" y2="392.09999999999997" stroke="#2a2a2a" stroke-width="1"/>
<line x1="288.50" y1="389.9" x2="288.50" y2="392.09999999999997" stroke="#2a2a2a" stroke-width="1"/>
<line x1="297.50" y1="389.9" x2="297.50" y2="393.29999999999995" stroke="#2a2a2a" stroke-width="1.05"/>
<text x="297.23" y="401.30" font-size="6.9" font-weight="bold" font-style="normal" text-anchor="middle" fill="#111" stroke="#111" stroke-width="0.04" >&#x2007;0</text>
<path transform="translate(297.23,401.30) scale(1,1.0) scale(0.00337,-0.00337) translate(-1139.0,0)" d="M478 0L478 1170L140 959L140 1180L493 1409L759 1409L759 0Z" fill="#111" stroke="#111" stroke-width="11.9"/>
<line x1="306.50" y1="389.9" x2="306.50" y2="392.09999999999997" stroke="#2a2a2a" stroke-width="1"/>
<line x1="315.50" y1="389.9" x2="315.50" y2="392.09999999999997" stroke="#2a2a2a" stroke-width="1"/>
<line x1="324.50" y1="389.9" x2="324.50" y2="392.09999999999997" stroke="#2a2a2a" stroke-width="1"/>
<line x1="333.50" y1="389.9" x2="333.50" y2="392.09999999999997" stroke="#2a2a2a" stroke-width="1"/>
<line x1="342.50" y1="389.9" x2="342.50" y2="393.29999999999995" stroke="#2a2a2a" stroke-width="1.05"/>
<text x="342.10" y="401.30" font-size="6.9" font-weight="bold" font-style="normal" text-anchor="middle" fill="#111" stroke="#111" stroke-width="0.04" >&#x2007;5</text>
<path transform="translate(342.10,401.30) scale(1,1.0) scale(0.00337,-0.00337) translate(-1139.0,0)" d="M478 0L478 1170L140 959L140 1180L493 1409L759 1409L759 0Z" fill="#111" stroke="#111" stroke-width="11.9"/>
<text x="274.80" y="411.70" font-size="7.3" font-weight="normal" font-style="normal" text-anchor="middle" fill="#222" stroke="#222" stroke-width="0.12" >Day</text>
<line x1="261.34" y1="316.26" x2="261.34" y2="319.86" stroke="#1f1fff" stroke-width="0.7" opacity="0.75"/>
<line x1="259.74" y1="316.26" x2="262.94" y2="316.26" stroke="#1f1fff" stroke-width="0.7" opacity="0.75"/>
<line x1="259.74" y1="319.86" x2="262.94" y2="319.86" stroke="#1f1fff" stroke-width="0.7" opacity="0.75"/>
<line x1="279.29" y1="358.47" x2="279.29" y2="367.45" stroke="#1f1fff" stroke-width="0.7" opacity="0.75"/>
<line x1="277.69" y1="358.47" x2="280.89" y2="358.47" stroke="#1f1fff" stroke-width="0.7" opacity="0.75"/>
<line x1="277.69" y1="367.45" x2="280.89" y2="367.45" stroke="#1f1fff" stroke-width="0.7" opacity="0.75"/>
<line x1="297.23" y1="379.12" x2="297.23" y2="382.72" stroke="#1f1fff" stroke-width="0.7" opacity="0.75"/>
<line x1="295.63" y1="379.12" x2="298.83" y2="379.12" stroke="#1f1fff" stroke-width="0.7" opacity="0.75"/>
<line x1="295.63" y1="382.72" x2="298.83" y2="382.72" stroke="#1f1fff" stroke-width="0.7" opacity="0.75"/>
<polyline points="207.50,301.90 225.45,302.79 243.39,303.69 261.34,318.06 279.29,362.96 297.23,380.92 315.18,387.21 333.13,388.10" fill="none" stroke="#1f1fff" stroke-width="0.8"/>
<path d="M207.50 299.50 L209.89 303.69 L205.11 303.69 Z" fill="#1f1fff"/>
<path d="M225.45 300.40 L227.84 304.59 L223.05 304.59 Z" fill="#1f1fff"/>
<path d="M243.39 301.30 L245.79 305.49 L241.00 305.49 Z" fill="#1f1fff"/>
<path d="M261.34 315.67 L263.73 319.85 L258.95 319.85 Z" fill="#1f1fff"/>
<path d="M279.29 360.57 L281.68 364.75 L276.89 364.75 Z" fill="#1f1fff"/>
<path d="M297.23 378.53 L299.63 382.71 L294.84 382.71 Z" fill="#1f1fff"/>
<path d="M315.18 384.81 L317.57 389.00 L312.79 389.00 Z" fill="#1f1fff"/>
<path d="M333.13 385.71 L335.52 389.90 L330.73 389.90 Z" fill="#1f1fff"/>
<line x1="261.34" y1="316.26" x2="261.34" y2="319.86" stroke="#1f1fff" stroke-width="0.7" opacity="0.75"/>
<line x1="259.74" y1="316.26" x2="262.94" y2="316.26" stroke="#1f1fff" stroke-width="0.7" opacity="0.75"/>
<line x1="259.74" y1="319.86" x2="262.94" y2="319.86" stroke="#1f1fff" stroke-width="0.7" opacity="0.75"/>
<line x1="279.29" y1="353.98" x2="279.29" y2="359.37" stroke="#1f1fff" stroke-width="0.7" opacity="0.75"/>
<line x1="277.69" y1="353.98" x2="280.89" y2="353.98" stroke="#1f1fff" stroke-width="0.7" opacity="0.75"/>
<line x1="277.69" y1="359.37" x2="280.89" y2="359.37" stroke="#1f1fff" stroke-width="0.7" opacity="0.75"/>
<line x1="297.23" y1="374.19" x2="297.23" y2="377.78" stroke="#1f1fff" stroke-width="0.7" opacity="0.75"/>
<line x1="295.63" y1="374.19" x2="298.83" y2="374.19" stroke="#1f1fff" stroke-width="0.7" opacity="0.75"/>
<line x1="295.63" y1="377.78" x2="298.83" y2="377.78" stroke="#1f1fff" stroke-width="0.7" opacity="0.75"/>
<polyline points="207.50,302.79 225.45,302.79 243.39,303.69 261.34,318.06 279.29,356.67 297.23,375.98 315.18,387.21 333.13,387.21" fill="none" stroke="#1f1fff" stroke-width="0.8"/>
<path d="M207.50 305.19 L209.89 301.00 L205.11 301.00 Z" fill="#1f1fff"/>
<path d="M225.45 305.19 L227.84 301.00 L223.05 301.00 Z" fill="#1f1fff"/>
<path d="M243.39 306.08 L245.79 301.90 L241.00 301.90 Z" fill="#1f1fff"/>
<path d="M261.34 320.45 L263.73 316.27 L258.95 316.27 Z" fill="#1f1fff"/>
<path d="M279.29 359.07 L281.68 354.88 L276.89 354.88 Z" fill="#1f1fff"/>
<path d="M297.23 378.37 L299.63 374.19 L294.84 374.19 Z" fill="#1f1fff"/>
<path d="M315.18 389.60 L317.57 385.41 L312.79 385.41 Z" fill="#1f1fff"/>
<path d="M333.13 389.60 L335.52 385.41 L330.73 385.41 Z" fill="#1f1fff"/>
<line x1="261.34" y1="309.98" x2="261.34" y2="315.37" stroke="#ff1f1f" stroke-width="0.7" opacity="0.75"/>
<line x1="259.74" y1="309.98" x2="262.94" y2="309.98" stroke="#ff1f1f" stroke-width="0.7" opacity="0.75"/>
<line x1="259.74" y1="315.37" x2="262.94" y2="315.37" stroke="#ff1f1f" stroke-width="0.7" opacity="0.75"/>
<line x1="279.29" y1="350.39" x2="279.29" y2="357.57" stroke="#ff1f1f" stroke-width="0.7" opacity="0.75"/>
<line x1="277.69" y1="350.39" x2="280.89" y2="350.39" stroke="#ff1f1f" stroke-width="0.7" opacity="0.75"/>
<line x1="277.69" y1="357.57" x2="280.89" y2="357.57" stroke="#ff1f1f" stroke-width="0.7" opacity="0.75"/>
<line x1="297.23" y1="381.82" x2="297.23" y2="383.61" stroke="#ff1f1f" stroke-width="0.7" opacity="0.75"/>
<line x1="295.63" y1="381.82" x2="298.83" y2="381.82" stroke="#ff1f1f" stroke-width="0.7" opacity="0.75"/>
<line x1="295.63" y1="383.61" x2="298.83" y2="383.61" stroke="#ff1f1f" stroke-width="0.7" opacity="0.75"/>
<polyline points="207.50,303.69 225.45,301.90 243.39,302.79 261.34,312.67 279.29,353.98 297.23,382.72 315.18,387.21 333.13,385.41" fill="none" stroke="#ff1f1f" stroke-width="0.8"/>
<circle cx="207.50" cy="303.69" r="2.12" fill="#ff1f1f"/>
<circle cx="225.45" cy="301.90" r="2.12" fill="#ff1f1f"/>
<circle cx="243.39" cy="302.79" r="2.12" fill="#ff1f1f"/>
<circle cx="261.34" cy="312.67" r="2.12" fill="#ff1f1f"/>
<circle cx="279.29" cy="353.98" r="2.12" fill="#ff1f1f"/>
<circle cx="297.23" cy="382.72" r="2.12" fill="#ff1f1f"/>
<circle cx="315.18" cy="387.21" r="2.12" fill="#ff1f1f"/>
<circle cx="333.13" cy="385.41" r="2.12" fill="#ff1f1f"/>
<line x1="261.34" y1="312.67" x2="261.34" y2="318.06" stroke="#ff1f1f" stroke-width="0.7" opacity="0.75"/>
<line x1="259.74" y1="312.67" x2="262.94" y2="312.67" stroke="#ff1f1f" stroke-width="0.7" opacity="0.75"/>
<line x1="259.74" y1="318.06" x2="262.94" y2="318.06" stroke="#ff1f1f" stroke-width="0.7" opacity="0.75"/>
<line x1="279.29" y1="341.41" x2="279.29" y2="359.37" stroke="#ff1f1f" stroke-width="0.7" opacity="0.75"/>
<line x1="277.69" y1="341.41" x2="280.89" y2="341.41" stroke="#ff1f1f" stroke-width="0.7" opacity="0.75"/>
<line x1="277.69" y1="359.37" x2="280.89" y2="359.37" stroke="#ff1f1f" stroke-width="0.7" opacity="0.75"/>
<line x1="297.23" y1="384.06" x2="297.23" y2="385.86" stroke="#ff1f1f" stroke-width="0.7" opacity="0.75"/>
<line x1="295.63" y1="384.06" x2="298.83" y2="384.06" stroke="#ff1f1f" stroke-width="0.7" opacity="0.75"/>
<line x1="295.63" y1="385.86" x2="298.83" y2="385.86" stroke="#ff1f1f" stroke-width="0.7" opacity="0.75"/>
<polyline points="207.50,304.59 225.45,301.90 243.39,302.79 261.34,315.37 279.29,350.39 297.23,384.96 315.18,387.21 333.13,385.41" fill="none" stroke="#ff1f1f" stroke-width="0.8"/>
<rect x="205.38" y="302.47" width="4.23" height="4.23" fill="#ff1f1f"/>
<rect x="223.33" y="299.78" width="4.23" height="4.23" fill="#ff1f1f"/>
<rect x="241.28" y="300.68" width="4.23" height="4.23" fill="#ff1f1f"/>
<rect x="259.22" y="313.25" width="4.23" height="4.23" fill="#ff1f1f"/>
<rect x="277.17" y="348.27" width="4.23" height="4.23" fill="#ff1f1f"/>
<rect x="295.12" y="382.84" width="4.23" height="4.23" fill="#ff1f1f"/>
<rect x="313.06" y="385.09" width="4.23" height="4.23" fill="#ff1f1f"/>
<rect x="331.01" y="383.29" width="4.23" height="4.23" fill="#ff1f1f"/>
<text x="0" y="0" transform="translate(187.30,345.00) rotate(-90)" font-size="7.5" text-anchor="middle" fill="#222" stroke="#222" stroke-width="0.1">(%)</text>
<text x="352.70" y="290.70" font-size="16" font-weight="bold" font-style="normal" text-anchor="start" fill="#000" stroke="#000" stroke-width="0.12" >h</text>
<text x="445.00" y="288.80" font-size="10" font-weight="bold" font-style="normal" text-anchor="middle" fill="#000" stroke="#000" stroke-width="0.12" >Lactate</text>
<line x1="377.70" y1="393.30" x2="377.70" y2="299.60" stroke="#2a2a2a" stroke-width="1.25"/>
<line x1="374.10" y1="389.90" x2="512.80" y2="389.90" stroke="#2a2a2a" stroke-width="1.25"/>
<line x1="374.10" y1="389.50" x2="377.70" y2="389.50" stroke="#2a2a2a" stroke-width="1.05"/>
<text x="373.10" y="392.30" font-size="6.9" font-weight="bold" font-style="normal" text-anchor="end" fill="#111" stroke="#111" stroke-width="0.04" >0</text>
<line x1="374.10" y1="371.50" x2="377.70" y2="371.50" stroke="#2a2a2a" stroke-width="1.05"/>
<text x="373.10" y="374.34" font-size="6.9" font-weight="bold" font-style="normal" text-anchor="end" fill="#111" stroke="#111" stroke-width="0.04" >5</text>
<line x1="374.10" y1="353.50" x2="377.70" y2="353.50" stroke="#2a2a2a" stroke-width="1.05"/>
<text x="373.10" y="356.38" font-size="6.9" font-weight="bold" font-style="normal" text-anchor="end" fill="#111" stroke="#111" stroke-width="0.04" >&#x2007;0</text>
<path transform="translate(373.10,356.38) scale(1,1.0) scale(0.00337,-0.00337) translate(-2278.0,0)" d="M478 0L478 1170L140 959L140 1180L493 1409L759 1409L759 0Z" fill="#111" stroke="#111" stroke-width="11.9"/>
<line x1="374.10" y1="336.50" x2="377.70" y2="336.50" stroke="#2a2a2a" stroke-width="1.05"/>
<text x="373.10" y="338.42" font-size="6.9" font-weight="bold" font-style="normal" text-anchor="end" fill="#111" stroke="#111" stroke-width="0.04" >&#x2007;5</text>
<path transform="translate(373.10,338.42) scale(1,1.0) scale(0.00337,-0.00337) translate(-2278.0,0)" d="M478 0L478 1170L140 959L140 1180L493 1409L759 1409L759 0Z" fill="#111" stroke="#111" stroke-width="11.9"/>
<line x1="374.10" y1="318.50" x2="377.70" y2="318.50" stroke="#2a2a2a" stroke-width="1.05"/>
<text x="373.10" y="320.46" font-size="6.9" font-weight="bold" font-style="normal" text-anchor="end" fill="#111" stroke="#111" stroke-width="0.04" >20</text>
<line x1="374.10" y1="300.50" x2="377.70" y2="300.50" stroke="#2a2a2a" stroke-width="1.05"/>
<text x="373.10" y="302.50" font-size="6.9" font-weight="bold" font-style="normal" text-anchor="end" fill="#111" stroke="#111" stroke-width="0.04" >25</text>
<line x1="377.50" y1="389.9" x2="377.50" y2="393.29999999999995" stroke="#2a2a2a" stroke-width="1.05"/>
<text x="377.70" y="401.30" font-size="6.9" font-weight="bold" font-style="normal" text-anchor="middle" fill="#111" stroke="#111" stroke-width="0.04" >0</text>
<line x1="386.50" y1="389.9" x2="386.50" y2="392.09999999999997" stroke="#2a2a2a" stroke-width="1"/>
<line x1="395.50" y1="389.9" x2="395.50" y2="392.09999999999997" stroke="#2a2a2a" stroke-width="1"/>
<line x1="404.50" y1="389.9" x2="404.50" y2="392.09999999999997" stroke="#2a2a2a" stroke-width="1"/>
<line x1="413.50" y1="389.9" x2="413.50" y2="392.09999999999997" stroke="#2a2a2a" stroke-width="1"/>
<line x1="422.50" y1="389.9" x2="422.50" y2="393.29999999999995" stroke="#2a2a2a" stroke-width="1.05"/>
<text x="422.57" y="401.30" font-size="6.9" font-weight="bold" font-style="normal" text-anchor="middle" fill="#111" stroke="#111" stroke-width="0.04" >5</text>
<line x1="431.50" y1="389.9" x2="431.50" y2="392.09999999999997" stroke="#2a2a2a" stroke-width="1"/>
<line x1="440.50" y1="389.9" x2="440.50" y2="392.09999999999997" stroke="#2a2a2a" stroke-width="1"/>
<line x1="449.50" y1="389.9" x2="449.50" y2="392.09999999999997" stroke="#2a2a2a" stroke-width="1"/>
<line x1="458.50" y1="389.9" x2="458.50" y2="392.09999999999997" stroke="#2a2a2a" stroke-width="1"/>
<line x1="467.50" y1="389.9" x2="467.50" y2="393.29999999999995" stroke="#2a2a2a" stroke-width="1.05"/>
<text x="467.43" y="401.30" font-size="6.9" font-weight="bold" font-style="normal" text-anchor="middle" fill="#111" stroke="#111" stroke-width="0.04" >&#x2007;0</text>
<path transform="translate(467.43,401.30) scale(1,1.0) scale(0.00337,-0.00337) translate(-1139.0,0)" d="M478 0L478 1170L140 959L140 1180L493 1409L759 1409L759 0Z" fill="#111" stroke="#111" stroke-width="11.9"/>
<line x1="476.50" y1="389.9" x2="476.50" y2="392.09999999999997" stroke="#2a2a2a" stroke-width="1"/>
<line x1="485.50" y1="389.9" x2="485.50" y2="392.09999999999997" stroke="#2a2a2a" stroke-width="1"/>
<line x1="494.50" y1="389.9" x2="494.50" y2="392.09999999999997" stroke="#2a2a2a" stroke-width="1"/>
<line x1="503.50" y1="389.9" x2="503.50" y2="392.09999999999997" stroke="#2a2a2a" stroke-width="1"/>
<line x1="512.50" y1="389.9" x2="512.50" y2="393.29999999999995" stroke="#2a2a2a" stroke-width="1.05"/>
<text x="512.30" y="401.30" font-size="6.9" font-weight="bold" font-style="normal" text-anchor="middle" fill="#111" stroke="#111" stroke-width="0.04" >&#x2007;5</text>
<path transform="translate(512.30,401.30) scale(1,1.0) scale(0.00337,-0.00337) translate(-1139.0,0)" d="M478 0L478 1170L140 959L140 1180L493 1409L759 1409L759 0Z" fill="#111" stroke="#111" stroke-width="11.9"/>
<text x="445.00" y="411.70" font-size="7.3" font-weight="normal" font-style="normal" text-anchor="middle" fill="#222" stroke="#222" stroke-width="0.12" >Day</text>
<line x1="395.65" y1="356.14" x2="395.65" y2="359.01" stroke="#1f1fff" stroke-width="0.7" opacity="0.75"/>
<line x1="394.05" y1="356.14" x2="397.25" y2="356.14" stroke="#1f1fff" stroke-width="0.7" opacity="0.75"/>
<line x1="394.05" y1="359.01" x2="397.25" y2="359.01" stroke="#1f1fff" stroke-width="0.7" opacity="0.75"/>
<line x1="413.59" y1="319.14" x2="413.59" y2="321.29" stroke="#1f1fff" stroke-width="0.7" opacity="0.75"/>
<line x1="411.99" y1="319.14" x2="415.19" y2="319.14" stroke="#1f1fff" stroke-width="0.7" opacity="0.75"/>
<line x1="411.99" y1="321.29" x2="415.19" y2="321.29" stroke="#1f1fff" stroke-width="0.7" opacity="0.75"/>
<line x1="431.54" y1="324.17" x2="431.54" y2="326.32" stroke="#1f1fff" stroke-width="0.7" opacity="0.75"/>
<line x1="429.94" y1="324.17" x2="433.14" y2="324.17" stroke="#1f1fff" stroke-width="0.7" opacity="0.75"/>
<line x1="429.94" y1="326.32" x2="433.14" y2="326.32" stroke="#1f1fff" stroke-width="0.7" opacity="0.75"/>
<line x1="449.49" y1="348.23" x2="449.49" y2="355.42" stroke="#1f1fff" stroke-width="0.7" opacity="0.75"/>
<line x1="447.89" y1="348.23" x2="451.09" y2="348.23" stroke="#1f1fff" stroke-width="0.7" opacity="0.75"/>
<line x1="447.89" y1="355.42" x2="451.09" y2="355.42" stroke="#1f1fff" stroke-width="0.7" opacity="0.75"/>
<line x1="467.43" y1="378.05" x2="467.43" y2="385.23" stroke="#1f1fff" stroke-width="0.7" opacity="0.75"/>
<line x1="465.83" y1="378.05" x2="469.03" y2="378.05" stroke="#1f1fff" stroke-width="0.7" opacity="0.75"/>
<line x1="465.83" y1="385.23" x2="469.03" y2="385.23" stroke="#1f1fff" stroke-width="0.7" opacity="0.75"/>
<line x1="485.38" y1="384.87" x2="485.38" y2="388.46" stroke="#1f1fff" stroke-width="0.7" opacity="0.75"/>
<line x1="483.78" y1="384.87" x2="486.98" y2="384.87" stroke="#1f1fff" stroke-width="0.7" opacity="0.75"/>
<line x1="483.78" y1="388.46" x2="486.98" y2="388.46" stroke="#1f1fff" stroke-width="0.7" opacity="0.75"/>
<line x1="503.33" y1="384.87" x2="503.33" y2="388.46" stroke="#1f1fff" stroke-width="0.7" opacity="0.75"/>
<line x1="501.73" y1="384.87" x2="504.93" y2="384.87" stroke="#1f1fff" stroke-width="0.7" opacity="0.75"/>
<line x1="501.73" y1="388.46" x2="504.93" y2="388.46" stroke="#1f1fff" stroke-width="0.7" opacity="0.75"/>
<polyline points="377.70,389.90 395.65,357.57 413.59,320.22 431.54,325.24 449.49,351.82 467.43,381.64 485.38,386.67 503.33,386.67" fill="none" stroke="#1f1fff" stroke-width="0.8"/>
<path d="M377.70 387.51 L380.09 391.69 L375.31 391.69 Z" fill="#1f1fff"/>
<path d="M395.65 355.18 L398.04 359.37 L393.25 359.37 Z" fill="#1f1fff"/>
<path d="M413.59 317.82 L415.99 322.01 L411.20 322.01 Z" fill="#1f1fff"/>
<path d="M431.54 322.85 L433.93 327.04 L429.15 327.04 Z" fill="#1f1fff"/>
<path d="M449.49 349.43 L451.88 353.62 L447.09 353.62 Z" fill="#1f1fff"/>
<path d="M467.43 379.25 L469.83 383.43 L465.04 383.43 Z" fill="#1f1fff"/>
<path d="M485.38 384.28 L487.77 388.46 L482.99 388.46 Z" fill="#1f1fff"/>
<path d="M503.33 384.28 L505.72 388.46 L500.93 388.46 Z" fill="#1f1fff"/>
<line x1="395.65" y1="356.14" x2="395.65" y2="359.01" stroke="#1f1fff" stroke-width="0.7" opacity="0.75"/>
<line x1="394.05" y1="356.14" x2="397.25" y2="356.14" stroke="#1f1fff" stroke-width="0.7" opacity="0.75"/>
<line x1="394.05" y1="359.01" x2="397.25" y2="359.01" stroke="#1f1fff" stroke-width="0.7" opacity="0.75"/>
<line x1="413.59" y1="320.57" x2="413.59" y2="322.73" stroke="#1f1fff" stroke-width="0.7" opacity="0.75"/>
<line x1="411.99" y1="320.57" x2="415.19" y2="320.57" stroke="#1f1fff" stroke-width="0.7" opacity="0.75"/>
<line x1="411.99" y1="322.73" x2="415.19" y2="322.73" stroke="#1f1fff" stroke-width="0.7" opacity="0.75"/>
<line x1="431.54" y1="324.88" x2="431.54" y2="327.04" stroke="#1f1fff" stroke-width="0.7" opacity="0.75"/>
<line x1="429.94" y1="324.88" x2="433.14" y2="324.88" stroke="#1f1fff" stroke-width="0.7" opacity="0.75"/>
<line x1="429.94" y1="327.04" x2="433.14" y2="327.04" stroke="#1f1fff" stroke-width="0.7" opacity="0.75"/>
<line x1="449.49" y1="351.47" x2="449.49" y2="355.06" stroke="#1f1fff" stroke-width="0.7" opacity="0.75"/>
<line x1="447.89" y1="351.47" x2="451.09" y2="351.47" stroke="#1f1fff" stroke-width="0.7" opacity="0.75"/>
<line x1="447.89" y1="355.06" x2="451.09" y2="355.06" stroke="#1f1fff" stroke-width="0.7" opacity="0.75"/>
<line x1="467.43" y1="381.64" x2="467.43" y2="385.23" stroke="#1f1fff" stroke-width="0.7" opacity="0.75"/>
<line x1="465.83" y1="381.64" x2="469.03" y2="381.64" stroke="#1f1fff" stroke-width="0.7" opacity="0.75"/>
<line x1="465.83" y1="385.23" x2="469.03" y2="385.23" stroke="#1f1fff" stroke-width="0.7" opacity="0.75"/>
<line x1="485.38" y1="385.59" x2="485.38" y2="389.18" stroke="#1f1fff" stroke-width="0.7" opacity="0.75"/>
<line x1="483.78" y1="385.59" x2="486.98" y2="385.59" stroke="#1f1fff" stroke-width="0.7" opacity="0.75"/>
<line x1="483.78" y1="389.18" x2="486.98" y2="389.18" stroke="#1f1fff" stroke-width="0.7" opacity="0.75"/>
<line x1="503.33" y1="385.59" x2="503.33" y2="389.18" stroke="#1f1fff" stroke-width="0.7" opacity="0.75"/>
<line x1="501.73" y1="385.59" x2="504.93" y2="385.59" stroke="#1f1fff" stroke-width="0.7" opacity="0.75"/>
<line x1="501.73" y1="389.18" x2="504.93" y2="389.18" stroke="#1f1fff" stroke-width="0.7" opacity="0.75"/>
<polyline points="377.70,389.90 395.65,357.57 413.59,321.65 431.54,325.96 449.49,353.26 467.43,383.43 485.38,387.39 503.33,387.39" fill="none" stroke="#1f1fff" stroke-width="0.8"/>
<path d="M377.70 392.29 L380.09 388.11 L375.31 388.11 Z" fill="#1f1fff"/>
<path d="M395.65 359.96 L398.04 355.78 L393.25 355.78 Z" fill="#1f1fff"/>
<path d="M413.59 324.04 L415.99 319.86 L411.20 319.86 Z" fill="#1f1fff"/>
<path d="M431.54 328.35 L433.93 324.17 L429.15 324.17 Z" fill="#1f1fff"/>
<path d="M449.49 355.65 L451.88 351.47 L447.09 351.47 Z" fill="#1f1fff"/>
<path d="M467.43 385.83 L469.83 381.64 L465.04 381.64 Z" fill="#1f1fff"/>
<path d="M485.38 389.78 L487.77 385.59 L482.99 385.59 Z" fill="#1f1fff"/>
<path d="M503.33 389.78 L505.72 385.59 L500.93 385.59 Z" fill="#1f1fff"/>
<line x1="395.65" y1="351.47" x2="395.65" y2="353.62" stroke="#ff1f1f" stroke-width="0.7" opacity="0.75"/>
<line x1="394.05" y1="351.47" x2="397.25" y2="351.47" stroke="#ff1f1f" stroke-width="0.7" opacity="0.75"/>
<line x1="394.05" y1="353.62" x2="397.25" y2="353.62" stroke="#ff1f1f" stroke-width="0.7" opacity="0.75"/>
<line x1="413.59" y1="327.40" x2="413.59" y2="332.43" stroke="#ff1f1f" stroke-width="0.7" opacity="0.75"/>
<line x1="411.99" y1="327.40" x2="415.19" y2="327.40" stroke="#ff1f1f" stroke-width="0.7" opacity="0.75"/>
<line x1="411.99" y1="332.43" x2="415.19" y2="332.43" stroke="#ff1f1f" stroke-width="0.7" opacity="0.75"/>
<line x1="431.54" y1="334.58" x2="431.54" y2="346.80" stroke="#ff1f1f" stroke-width="0.7" opacity="0.75"/>
<line x1="429.94" y1="334.58" x2="433.14" y2="334.58" stroke="#ff1f1f" stroke-width="0.7" opacity="0.75"/>
<line x1="429.94" y1="346.80" x2="433.14" y2="346.80" stroke="#ff1f1f" stroke-width="0.7" opacity="0.75"/>
<line x1="449.49" y1="362.24" x2="449.49" y2="369.43" stroke="#ff1f1f" stroke-width="0.7" opacity="0.75"/>
<line x1="447.89" y1="362.24" x2="451.09" y2="362.24" stroke="#ff1f1f" stroke-width="0.7" opacity="0.75"/>
<line x1="447.89" y1="369.43" x2="451.09" y2="369.43" stroke="#ff1f1f" stroke-width="0.7" opacity="0.75"/>
<polyline points="377.70,389.90 395.65,352.54 413.59,329.91 431.54,340.69 449.49,365.83 467.43,389.72 485.38,389.18 503.33,389.18" fill="none" stroke="#ff1f1f" stroke-width="0.8"/>
<circle cx="377.70" cy="389.90" r="2.12" fill="#ff1f1f"/>
<circle cx="395.65" cy="352.54" r="2.12" fill="#ff1f1f"/>
<circle cx="413.59" cy="329.91" r="2.12" fill="#ff1f1f"/>
<circle cx="431.54" cy="340.69" r="2.12" fill="#ff1f1f"/>
<circle cx="449.49" cy="365.83" r="2.12" fill="#ff1f1f"/>
<circle cx="467.43" cy="389.72" r="2.12" fill="#ff1f1f"/>
<circle cx="485.38" cy="389.18" r="2.12" fill="#ff1f1f"/>
<circle cx="503.33" cy="389.18" r="2.12" fill="#ff1f1f"/>
<line x1="395.65" y1="352.90" x2="395.65" y2="355.06" stroke="#ff1f1f" stroke-width="0.7" opacity="0.75"/>
<line x1="394.05" y1="352.90" x2="397.25" y2="352.90" stroke="#ff1f1f" stroke-width="0.7" opacity="0.75"/>
<line x1="394.05" y1="355.06" x2="397.25" y2="355.06" stroke="#ff1f1f" stroke-width="0.7" opacity="0.75"/>
<line x1="413.59" y1="320.57" x2="413.59" y2="322.73" stroke="#ff1f1f" stroke-width="0.7" opacity="0.75"/>
<line x1="411.99" y1="320.57" x2="415.19" y2="320.57" stroke="#ff1f1f" stroke-width="0.7" opacity="0.75"/>
<line x1="411.99" y1="322.73" x2="415.19" y2="322.73" stroke="#ff1f1f" stroke-width="0.7" opacity="0.75"/>
<line x1="431.54" y1="326.68" x2="431.54" y2="330.27" stroke="#ff1f1f" stroke-width="0.7" opacity="0.75"/>
<line x1="429.94" y1="326.68" x2="433.14" y2="326.68" stroke="#ff1f1f" stroke-width="0.7" opacity="0.75"/>
<line x1="429.94" y1="330.27" x2="433.14" y2="330.27" stroke="#ff1f1f" stroke-width="0.7" opacity="0.75"/>
<line x1="449.49" y1="368.71" x2="449.49" y2="370.86" stroke="#ff1f1f" stroke-width="0.7" opacity="0.75"/>
<line x1="447.89" y1="368.71" x2="451.09" y2="368.71" stroke="#ff1f1f" stroke-width="0.7" opacity="0.75"/>
<line x1="447.89" y1="370.86" x2="451.09" y2="370.86" stroke="#ff1f1f" stroke-width="0.7" opacity="0.75"/>
<polyline points="377.70,389.90 395.65,353.98 413.59,321.65 431.54,328.48 449.49,369.78 467.43,389.72 485.38,389.18 503.33,389.18" fill="none" stroke="#ff1f1f" stroke-width="0.8"/>
<rect x="375.58" y="387.78" width="4.23" height="4.23" fill="#ff1f1f"/>
<rect x="393.53" y="351.86" width="4.23" height="4.23" fill="#ff1f1f"/>
<rect x="411.48" y="319.54" width="4.23" height="4.23" fill="#ff1f1f"/>
<rect x="429.42" y="326.36" width="4.23" height="4.23" fill="#ff1f1f"/>
<rect x="447.37" y="367.67" width="4.23" height="4.23" fill="#ff1f1f"/>
<rect x="465.32" y="387.60" width="4.23" height="4.23" fill="#ff1f1f"/>
<rect x="483.26" y="387.07" width="4.23" height="4.23" fill="#ff1f1f"/>
<rect x="501.21" y="387.07" width="4.23" height="4.23" fill="#ff1f1f"/>
<text x="0" y="0" transform="translate(360.00,345.00) rotate(-90)" font-size="7.5" text-anchor="middle" fill="#222" stroke="#222" stroke-width="0.1">Concentration (mM)</text>
<text x="523.20" y="290.70" font-size="16" font-weight="bold" font-style="normal" text-anchor="start" fill="#000" stroke="#000" stroke-width="0.12" >i</text>
<text x="614.45" y="288.80" font-size="10" font-weight="bold" font-style="normal" text-anchor="middle" fill="#000" stroke="#000" stroke-width="0.12" >NH3</text>
<line x1="547.15" y1="393.30" x2="547.15" y2="299.60" stroke="#2a2a2a" stroke-width="1.25"/>
<line x1="543.55" y1="389.90" x2="682.25" y2="389.90" stroke="#2a2a2a" stroke-width="1.25"/>
<line x1="543.55" y1="389.50" x2="547.15" y2="389.50" stroke="#2a2a2a" stroke-width="1.05"/>
<text x="542.55" y="392.30" font-size="6.9" font-weight="bold" font-style="normal" text-anchor="end" fill="#111" stroke="#111" stroke-width="0.04" >0</text>
<line x1="543.55" y1="359.50" x2="547.15" y2="359.50" stroke="#2a2a2a" stroke-width="1.05"/>
<text x="542.55" y="362.37" font-size="6.9" font-weight="bold" font-style="normal" text-anchor="end" fill="#111" stroke="#111" stroke-width="0.04" >5</text>
<line x1="543.55" y1="330.50" x2="547.15" y2="330.50" stroke="#2a2a2a" stroke-width="1.05"/>
<text x="542.55" y="332.43" font-size="6.9" font-weight="bold" font-style="normal" text-anchor="end" fill="#111" stroke="#111" stroke-width="0.04" >&#x2007;0</text>
<path transform="translate(542.55,332.43) scale(1,1.0) scale(0.00337,-0.00337) translate(-2278.0,0)" d="M478 0L478 1170L140 959L140 1180L493 1409L759 1409L759 0Z" fill="#111" stroke="#111" stroke-width="11.9"/>
<line x1="543.55" y1="300.50" x2="547.15" y2="300.50" stroke="#2a2a2a" stroke-width="1.05"/>
<text x="542.55" y="302.50" font-size="6.9" font-weight="bold" font-style="normal" text-anchor="end" fill="#111" stroke="#111" stroke-width="0.04" >&#x2007;5</text>
<path transform="translate(542.55,302.50) scale(1,1.0) scale(0.00337,-0.00337) translate(-2278.0,0)" d="M478 0L478 1170L140 959L140 1180L493 1409L759 1409L759 0Z" fill="#111" stroke="#111" stroke-width="11.9"/>
<line x1="547.50" y1="389.9" x2="547.50" y2="393.29999999999995" stroke="#2a2a2a" stroke-width="1.05"/>
<text x="547.15" y="401.30" font-size="6.9" font-weight="bold" font-style="normal" text-anchor="middle" fill="#111" stroke="#111" stroke-width="0.04" >0</text>
<line x1="556.50" y1="389.9" x2="556.50" y2="392.09999999999997" stroke="#2a2a2a" stroke-width="1"/>
<line x1="565.50" y1="389.9" x2="565.50" y2="392.09999999999997" stroke="#2a2a2a" stroke-width="1"/>
<line x1="574.50" y1="389.9" x2="574.50" y2="392.09999999999997" stroke="#2a2a2a" stroke-width="1"/>
<line x1="583.50" y1="389.9" x2="583.50" y2="392.09999999999997" stroke="#2a2a2a" stroke-width="1"/>
<line x1="592.50" y1="389.9" x2="592.50" y2="393.29999999999995" stroke="#2a2a2a" stroke-width="1.05"/>
<text x="592.02" y="401.30" font-size="6.9" font-weight="bold" font-style="normal" text-anchor="middle" fill="#111" stroke="#111" stroke-width="0.04" >5</text>
<line x1="600.50" y1="389.9" x2="600.50" y2="392.09999999999997" stroke="#2a2a2a" stroke-width="1"/>
<line x1="609.50" y1="389.9" x2="609.50" y2="392.09999999999997" stroke="#2a2a2a" stroke-width="1"/>
<line x1="618.50" y1="389.9" x2="618.50" y2="392.09999999999997" stroke="#2a2a2a" stroke-width="1"/>
<line x1="627.50" y1="389.9" x2="627.50" y2="392.09999999999997" stroke="#2a2a2a" stroke-width="1"/>
<line x1="636.50" y1="389.9" x2="636.50" y2="393.29999999999995" stroke="#2a2a2a" stroke-width="1.05"/>
<text x="636.88" y="401.30" font-size="6.9" font-weight="bold" font-style="normal" text-anchor="middle" fill="#111" stroke="#111" stroke-width="0.04" >&#x2007;0</text>
<path transform="translate(636.88,401.30) scale(1,1.0) scale(0.00337,-0.00337) translate(-1139.0,0)" d="M478 0L478 1170L140 959L140 1180L493 1409L759 1409L759 0Z" fill="#111" stroke="#111" stroke-width="11.9"/>
<line x1="645.50" y1="389.9" x2="645.50" y2="392.09999999999997" stroke="#2a2a2a" stroke-width="1"/>
<line x1="654.50" y1="389.9" x2="654.50" y2="392.09999999999997" stroke="#2a2a2a" stroke-width="1"/>
<line x1="663.50" y1="389.9" x2="663.50" y2="392.09999999999997" stroke="#2a2a2a" stroke-width="1"/>
<line x1="672.50" y1="389.9" x2="672.50" y2="392.09999999999997" stroke="#2a2a2a" stroke-width="1"/>
<line x1="681.50" y1="389.9" x2="681.50" y2="393.29999999999995" stroke="#2a2a2a" stroke-width="1.05"/>
<text x="681.75" y="401.30" font-size="6.9" font-weight="bold" font-style="normal" text-anchor="middle" fill="#111" stroke="#111" stroke-width="0.04" >&#x2007;5</text>
<path transform="translate(681.75,401.30) scale(1,1.0) scale(0.00337,-0.00337) translate(-1139.0,0)" d="M478 0L478 1170L140 959L140 1180L493 1409L759 1409L759 0Z" fill="#111" stroke="#111" stroke-width="11.9"/>
<text x="614.45" y="411.70" font-size="7.3" font-weight="normal" font-style="normal" text-anchor="middle" fill="#222" stroke="#222" stroke-width="0.12" >Day</text>
<line x1="583.04" y1="346.20" x2="583.04" y2="347.39" stroke="#1f1fff" stroke-width="0.7" opacity="0.75"/>
<line x1="581.44" y1="346.20" x2="584.64" y2="346.20" stroke="#1f1fff" stroke-width="0.7" opacity="0.75"/>
<line x1="581.44" y1="347.39" x2="584.64" y2="347.39" stroke="#1f1fff" stroke-width="0.7" opacity="0.75"/>
<line x1="600.99" y1="345.00" x2="600.99" y2="347.39" stroke="#1f1fff" stroke-width="0.7" opacity="0.75"/>
<line x1="599.39" y1="345.00" x2="602.59" y2="345.00" stroke="#1f1fff" stroke-width="0.7" opacity="0.75"/>
<line x1="599.39" y1="347.39" x2="602.59" y2="347.39" stroke="#1f1fff" stroke-width="0.7" opacity="0.75"/>
<line x1="618.94" y1="337.22" x2="618.94" y2="339.61" stroke="#1f1fff" stroke-width="0.7" opacity="0.75"/>
<line x1="617.34" y1="337.22" x2="620.54" y2="337.22" stroke="#1f1fff" stroke-width="0.7" opacity="0.75"/>
<line x1="617.34" y1="339.61" x2="620.54" y2="339.61" stroke="#1f1fff" stroke-width="0.7" opacity="0.75"/>
<line x1="636.88" y1="318.96" x2="636.88" y2="321.35" stroke="#1f1fff" stroke-width="0.7" opacity="0.75"/>
<line x1="635.28" y1="318.96" x2="638.48" y2="318.96" stroke="#1f1fff" stroke-width="0.7" opacity="0.75"/>
<line x1="635.28" y1="321.35" x2="638.48" y2="321.35" stroke="#1f1fff" stroke-width="0.7" opacity="0.75"/>
<line x1="654.83" y1="313.27" x2="654.83" y2="314.47" stroke="#1f1fff" stroke-width="0.7" opacity="0.75"/>
<line x1="653.23" y1="313.27" x2="656.43" y2="313.27" stroke="#1f1fff" stroke-width="0.7" opacity="0.75"/>
<line x1="653.23" y1="314.47" x2="656.43" y2="314.47" stroke="#1f1fff" stroke-width="0.7" opacity="0.75"/>
<line x1="672.78" y1="313.57" x2="672.78" y2="314.77" stroke="#1f1fff" stroke-width="0.7" opacity="0.75"/>
<line x1="671.18" y1="313.57" x2="674.38" y2="313.57" stroke="#1f1fff" stroke-width="0.7" opacity="0.75"/>
<line x1="671.18" y1="314.77" x2="674.38" y2="314.77" stroke="#1f1fff" stroke-width="0.7" opacity="0.75"/>
<polyline points="547.15,389.90 565.10,367.75 583.04,346.80 600.99,346.20 618.94,338.41 636.88,320.16 654.83,313.87 672.78,314.17" fill="none" stroke="#1f1fff" stroke-width="0.8"/>
<path d="M547.15 387.51 L549.54 391.69 L544.76 391.69 Z" fill="#1f1fff"/>
<path d="M565.10 365.36 L567.49 369.54 L562.70 369.54 Z" fill="#1f1fff"/>
<path d="M583.04 344.40 L585.44 348.59 L580.65 348.59 Z" fill="#1f1fff"/>
<path d="M600.99 343.81 L603.38 347.99 L598.60 347.99 Z" fill="#1f1fff"/>
<path d="M618.94 336.02 L621.33 340.21 L616.54 340.21 Z" fill="#1f1fff"/>
<path d="M636.88 317.76 L639.28 321.95 L634.49 321.95 Z" fill="#1f1fff"/>
<path d="M654.83 311.48 L657.22 315.66 L652.44 315.66 Z" fill="#1f1fff"/>
<path d="M672.78 311.78 L675.17 315.96 L670.38 315.96 Z" fill="#1f1fff"/>
<line x1="583.04" y1="346.80" x2="583.04" y2="347.99" stroke="#1f1fff" stroke-width="0.7" opacity="0.75"/>
<line x1="581.44" y1="346.80" x2="584.64" y2="346.80" stroke="#1f1fff" stroke-width="0.7" opacity="0.75"/>
<line x1="581.44" y1="347.99" x2="584.64" y2="347.99" stroke="#1f1fff" stroke-width="0.7" opacity="0.75"/>
<line x1="600.99" y1="345.00" x2="600.99" y2="347.39" stroke="#1f1fff" stroke-width="0.7" opacity="0.75"/>
<line x1="599.39" y1="345.00" x2="602.59" y2="345.00" stroke="#1f1fff" stroke-width="0.7" opacity="0.75"/>
<line x1="599.39" y1="347.39" x2="602.59" y2="347.39" stroke="#1f1fff" stroke-width="0.7" opacity="0.75"/>
<line x1="618.94" y1="340.21" x2="618.94" y2="342.61" stroke="#1f1fff" stroke-width="0.7" opacity="0.75"/>
<line x1="617.34" y1="340.21" x2="620.54" y2="340.21" stroke="#1f1fff" stroke-width="0.7" opacity="0.75"/>
<line x1="617.34" y1="342.61" x2="620.54" y2="342.61" stroke="#1f1fff" stroke-width="0.7" opacity="0.75"/>
<line x1="636.88" y1="320.45" x2="636.88" y2="322.85" stroke="#1f1fff" stroke-width="0.7" opacity="0.75"/>
<line x1="635.28" y1="320.45" x2="638.48" y2="320.45" stroke="#1f1fff" stroke-width="0.7" opacity="0.75"/>
<line x1="635.28" y1="322.85" x2="638.48" y2="322.85" stroke="#1f1fff" stroke-width="0.7" opacity="0.75"/>
<line x1="654.83" y1="313.87" x2="654.83" y2="315.07" stroke="#1f1fff" stroke-width="0.7" opacity="0.75"/>
<line x1="653.23" y1="313.87" x2="656.43" y2="313.87" stroke="#1f1fff" stroke-width="0.7" opacity="0.75"/>
<line x1="653.23" y1="315.07" x2="656.43" y2="315.07" stroke="#1f1fff" stroke-width="0.7" opacity="0.75"/>
<line x1="672.78" y1="314.47" x2="672.78" y2="315.67" stroke="#1f1fff" stroke-width="0.7" opacity="0.75"/>
<line x1="671.18" y1="314.47" x2="674.38" y2="314.47" stroke="#1f1fff" stroke-width="0.7" opacity="0.75"/>
<line x1="671.18" y1="315.67" x2="674.38" y2="315.67" stroke="#1f1fff" stroke-width="0.7" opacity="0.75"/>
<polyline points="547.15,389.90 565.10,367.75 583.04,347.39 600.99,346.20 618.94,341.41 636.88,321.65 654.83,314.47 672.78,315.07" fill="none" stroke="#1f1fff" stroke-width="0.8"/>
<path d="M547.15 392.29 L549.54 388.11 L544.76 388.11 Z" fill="#1f1fff"/>
<path d="M565.10 370.14 L567.49 365.96 L562.70 365.96 Z" fill="#1f1fff"/>
<path d="M583.04 349.79 L585.44 345.60 L580.65 345.60 Z" fill="#1f1fff"/>
<path d="M600.99 348.59 L603.38 344.40 L598.60 344.40 Z" fill="#1f1fff"/>
<path d="M618.94 343.80 L621.33 339.61 L616.54 339.61 Z" fill="#1f1fff"/>
<path d="M636.88 324.04 L639.28 319.86 L634.49 319.86 Z" fill="#1f1fff"/>
<path d="M654.83 316.86 L657.22 312.67 L652.44 312.67 Z" fill="#1f1fff"/>
<path d="M672.78 317.46 L675.17 313.27 L670.38 313.27 Z" fill="#1f1fff"/>
<line x1="583.04" y1="352.78" x2="583.04" y2="355.18" stroke="#ff1f1f" stroke-width="0.7" opacity="0.75"/>
<line x1="581.44" y1="352.78" x2="584.64" y2="352.78" stroke="#ff1f1f" stroke-width="0.7" opacity="0.75"/>
<line x1="581.44" y1="355.18" x2="584.64" y2="355.18" stroke="#ff1f1f" stroke-width="0.7" opacity="0.75"/>
<line x1="600.99" y1="353.08" x2="600.99" y2="356.67" stroke="#ff1f1f" stroke-width="0.7" opacity="0.75"/>
<line x1="599.39" y1="353.08" x2="602.59" y2="353.08" stroke="#ff1f1f" stroke-width="0.7" opacity="0.75"/>
<line x1="599.39" y1="356.67" x2="602.59" y2="356.67" stroke="#ff1f1f" stroke-width="0.7" opacity="0.75"/>
<line x1="618.94" y1="346.80" x2="618.94" y2="349.19" stroke="#ff1f1f" stroke-width="0.7" opacity="0.75"/>
<line x1="617.34" y1="346.80" x2="620.54" y2="346.80" stroke="#ff1f1f" stroke-width="0.7" opacity="0.75"/>
<line x1="617.34" y1="349.19" x2="620.54" y2="349.19" stroke="#ff1f1f" stroke-width="0.7" opacity="0.75"/>
<line x1="636.88" y1="327.04" x2="636.88" y2="329.43" stroke="#ff1f1f" stroke-width="0.7" opacity="0.75"/>
<line x1="635.28" y1="327.04" x2="638.48" y2="327.04" stroke="#ff1f1f" stroke-width="0.7" opacity="0.75"/>
<line x1="635.28" y1="329.43" x2="638.48" y2="329.43" stroke="#ff1f1f" stroke-width="0.7" opacity="0.75"/>
<line x1="654.83" y1="324.65" x2="654.83" y2="330.63" stroke="#ff1f1f" stroke-width="0.7" opacity="0.75"/>
<line x1="653.23" y1="324.65" x2="656.43" y2="324.65" stroke="#ff1f1f" stroke-width="0.7" opacity="0.75"/>
<line x1="653.23" y1="330.63" x2="656.43" y2="330.63" stroke="#ff1f1f" stroke-width="0.7" opacity="0.75"/>
<line x1="672.78" y1="326.44" x2="672.78" y2="328.84" stroke="#ff1f1f" stroke-width="0.7" opacity="0.75"/>
<line x1="671.18" y1="326.44" x2="674.38" y2="326.44" stroke="#ff1f1f" stroke-width="0.7" opacity="0.75"/>
<line x1="671.18" y1="328.84" x2="674.38" y2="328.84" stroke="#ff1f1f" stroke-width="0.7" opacity="0.75"/>
<polyline points="547.15,389.90 565.10,369.55 583.04,353.98 600.99,354.88 618.94,347.99 636.88,328.24 654.83,327.64 672.78,327.64" fill="none" stroke="#ff1f1f" stroke-width="0.8"/>
<circle cx="547.15" cy="389.90" r="2.12" fill="#ff1f1f"/>
<circle cx="565.10" cy="369.55" r="2.12" fill="#ff1f1f"/>
<circle cx="583.04" cy="353.98" r="2.12" fill="#ff1f1f"/>
<circle cx="600.99" cy="354.88" r="2.12" fill="#ff1f1f"/>
<circle cx="618.94" cy="347.99" r="2.12" fill="#ff1f1f"/>
<circle cx="636.88" cy="328.24" r="2.12" fill="#ff1f1f"/>
<circle cx="654.83" cy="327.64" r="2.12" fill="#ff1f1f"/>
<circle cx="672.78" cy="327.64" r="2.12" fill="#ff1f1f"/>
<line x1="583.04" y1="351.59" x2="583.04" y2="353.98" stroke="#ff1f1f" stroke-width="0.7" opacity="0.75"/>
<line x1="581.44" y1="351.59" x2="584.64" y2="351.59" stroke="#ff1f1f" stroke-width="0.7" opacity="0.75"/>
<line x1="581.44" y1="353.98" x2="584.64" y2="353.98" stroke="#ff1f1f" stroke-width="0.7" opacity="0.75"/>
<line x1="600.99" y1="351.59" x2="600.99" y2="353.98" stroke="#ff1f1f" stroke-width="0.7" opacity="0.75"/>
<line x1="599.39" y1="351.59" x2="602.59" y2="351.59" stroke="#ff1f1f" stroke-width="0.7" opacity="0.75"/>
<line x1="599.39" y1="353.98" x2="602.59" y2="353.98" stroke="#ff1f1f" stroke-width="0.7" opacity="0.75"/>
<line x1="618.94" y1="345.00" x2="618.94" y2="347.39" stroke="#ff1f1f" stroke-width="0.7" opacity="0.75"/>
<line x1="617.34" y1="345.00" x2="620.54" y2="345.00" stroke="#ff1f1f" stroke-width="0.7" opacity="0.75"/>
<line x1="617.34" y1="347.39" x2="620.54" y2="347.39" stroke="#ff1f1f" stroke-width="0.7" opacity="0.75"/>
<line x1="636.88" y1="327.04" x2="636.88" y2="329.43" stroke="#ff1f1f" stroke-width="0.7" opacity="0.75"/>
<line x1="635.28" y1="327.04" x2="638.48" y2="327.04" stroke="#ff1f1f" stroke-width="0.7" opacity="0.75"/>
<line x1="635.28" y1="329.43" x2="638.48" y2="329.43" stroke="#ff1f1f" stroke-width="0.7" opacity="0.75"/>
<line x1="654.83" y1="324.65" x2="654.83" y2="327.04" stroke="#ff1f1f" stroke-width="0.7" opacity="0.75"/>
<line x1="653.23" y1="324.65" x2="656.43" y2="324.65" stroke="#ff1f1f" stroke-width="0.7" opacity="0.75"/>
<line x1="653.23" y1="327.04" x2="656.43" y2="327.04" stroke="#ff1f1f" stroke-width="0.7" opacity="0.75"/>
<line x1="672.78" y1="324.65" x2="672.78" y2="327.04" stroke="#ff1f1f" stroke-width="0.7" opacity="0.75"/>
<line x1="671.18" y1="324.65" x2="674.38" y2="324.65" stroke="#ff1f1f" stroke-width="0.7" opacity="0.75"/>
<line x1="671.18" y1="327.04" x2="674.38" y2="327.04" stroke="#ff1f1f" stroke-width="0.7" opacity="0.75"/>
<polyline points="547.15,389.90 565.10,369.55 583.04,352.78 600.99,352.78 618.94,346.20 636.88,328.24 654.83,325.84 672.78,325.84" fill="none" stroke="#ff1f1f" stroke-width="0.8"/>
<rect x="545.03" y="387.78" width="4.23" height="4.23" fill="#ff1f1f"/>
<rect x="562.98" y="367.43" width="4.23" height="4.23" fill="#ff1f1f"/>
<rect x="580.93" y="350.67" width="4.23" height="4.23" fill="#ff1f1f"/>
<rect x="598.87" y="350.67" width="4.23" height="4.23" fill="#ff1f1f"/>
<rect x="616.82" y="344.08" width="4.23" height="4.23" fill="#ff1f1f"/>
<rect x="634.77" y="326.12" width="4.23" height="4.23" fill="#ff1f1f"/>
<rect x="652.71" y="323.73" width="4.23" height="4.23" fill="#ff1f1f"/>
<rect x="670.66" y="323.73" width="4.23" height="4.23" fill="#ff1f1f"/>
<text x="0" y="0" transform="translate(529.75,345.00) rotate(-90)" font-size="7.5" text-anchor="middle" fill="#222" stroke="#222" stroke-width="0.1">Concentration (mM)</text>
</svg></body></html>
